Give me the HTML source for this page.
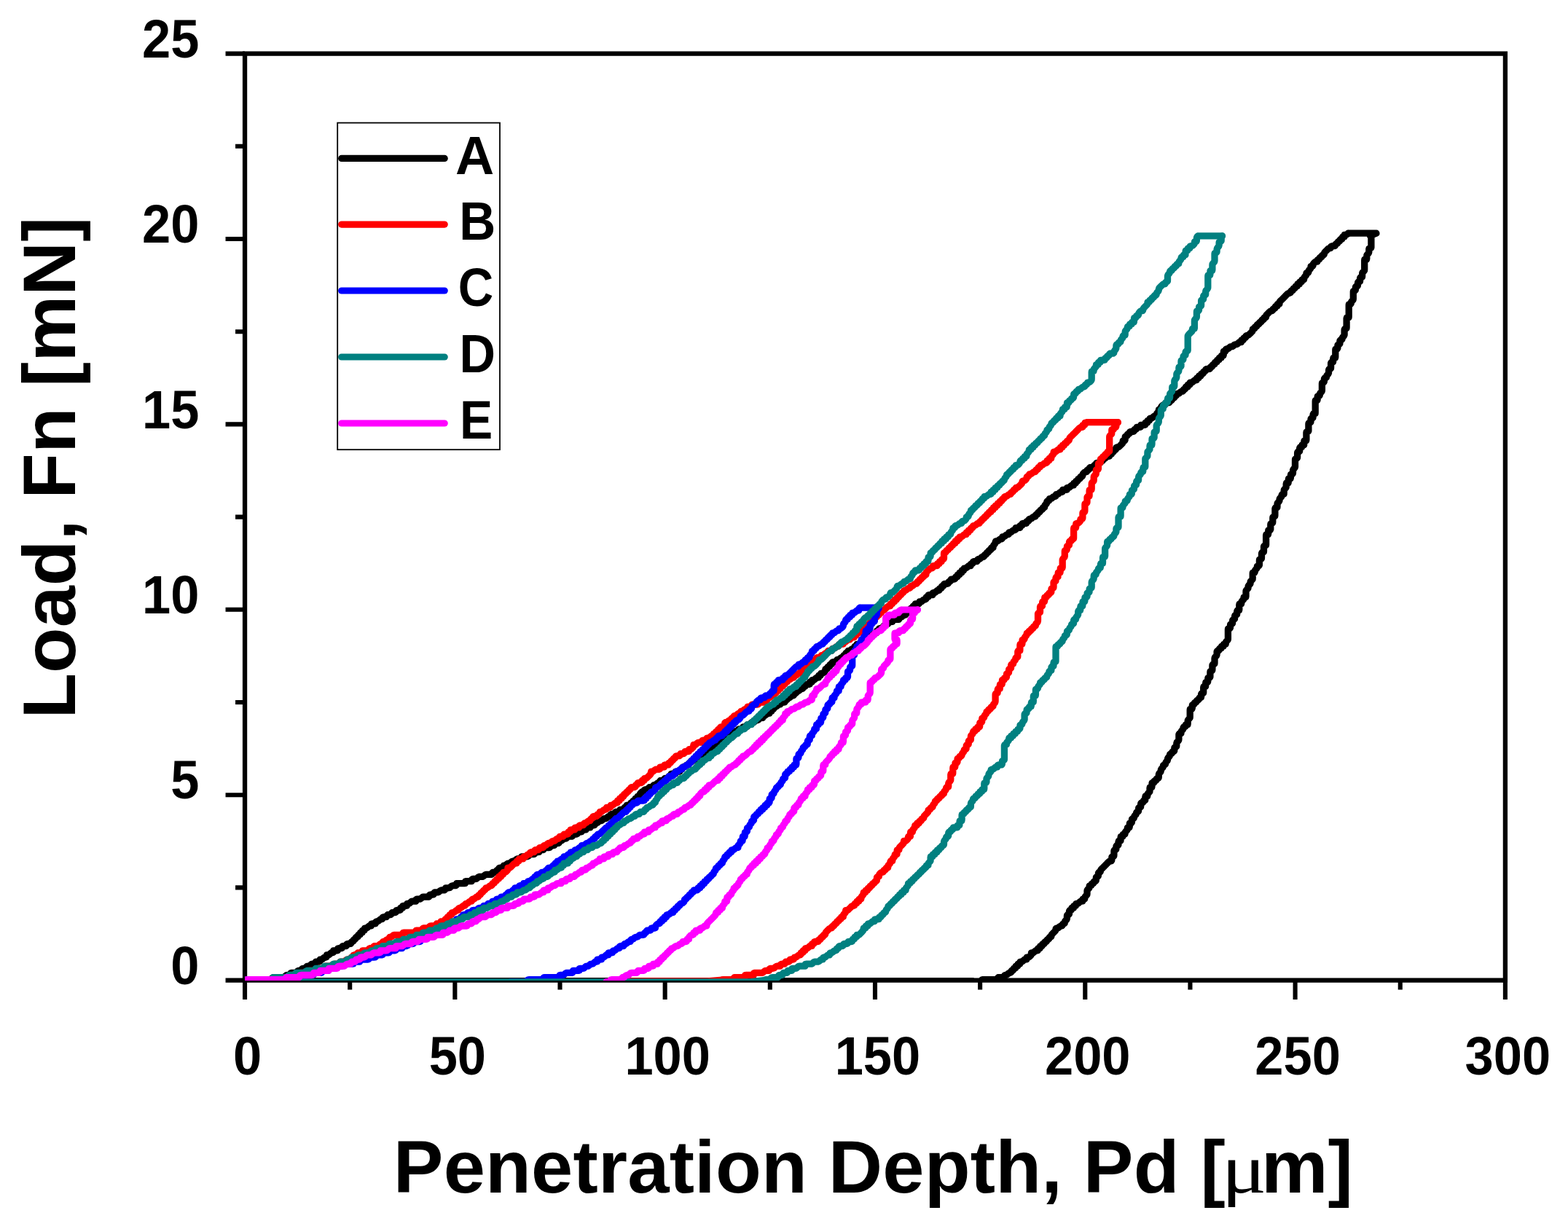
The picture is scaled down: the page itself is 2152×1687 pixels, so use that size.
<!DOCTYPE html>
<html lang="en"><head><meta charset="utf-8"><title>Load vs Penetration Depth</title>
<style>html,body{margin:0;padding:0;background:#fff}body{width:2152px;height:1687px;overflow:hidden}svg{display:block}text{font-family:"Liberation Sans",sans-serif;font-weight:bold;fill:#000}.mu{font-family:"Liberation Serif",serif;font-weight:normal}</style></head><body>
<svg width="2152" height="1687" viewBox="0 0 2152 1687">
<rect width="2152" height="1687" fill="#fff"/>
<defs><filter id="soft" x="0" y="0" width="2152" height="1687" filterUnits="userSpaceOnUse"><feGaussianBlur stdDeviation="0.6"/></filter><clipPath id="pc"><rect x="336.0" y="0" width="2152" height="1346.1"/></clipPath></defs>
<g id="axes" stroke="#000" stroke-width="6.3" fill="none" stroke-linecap="butt">
<rect x="336.05" y="73.6" width="1729.85" height="1272.00"/>
<path stroke-width="6.1" d="M336.05,1345.6v26.5 M480.20,1345.6v13.0 M624.36,1345.6v26.5 M768.51,1345.6v13.0 M912.67,1345.6v26.5 M1056.82,1345.6v13.0 M1200.97,1345.6v26.5 M1345.13,1345.6v13.0 M1489.28,1345.6v26.5 M1633.44,1345.6v13.0 M1777.59,1345.6v26.5 M1921.75,1345.6v13.0 M2065.90,1345.6v26.5 M336.05,1345.60h-26.5 M336.05,1218.40h-13.0 M336.05,1091.20h-26.5 M336.05,964.00h-13.0 M336.05,836.80h-26.5 M336.05,709.60h-13.0 M336.05,582.40h-26.5 M336.05,455.20h-13.0 M336.05,328.00h-26.5 M336.05,200.80h-13.0 M336.05,73.60h-26.5"/>
</g>
<g id="curves" clip-path="url(#pc)"><g fill="none" stroke-linejoin="round" stroke-linecap="round" filter="url(#soft)">
<path stroke="#000000" stroke-width="9.3" d="M336,1345.6l1.3-0.6l1.5-0.3h1.5h1.5h1.5h1.5h1.5h1.5h1.5h1.5h1.5h1.5h1.5h1.5h1.5h1.5h1.5h1.5h1.5h1.5h1.5h1.5h1.5l1.4-0.3l1-1l1.1-1l1.2-0.7l1.5-0.1h1.5h1.5h1.5h1.5h1.5h1.5h1.5h1.5l1.4-0.2l1.1-0.9l1.1-1.1l1.1-0.8l1.5-0.1h1.5h1.5l1.2-0.2l0.2-1.4l0.2-1.3l1.3-0.2h1.5h1.5h1.5h1.5l1.3-0.1l0.4-1.2l0.1-1.3l1.2-0.4h1.5h1.5l1.4-0.1l0.4-1.1l0.1-1.4l1-0.5h1.5h1.5l1.4-0.1l0.6-0.8l0.2-1.4l0.8-0.7l1.4-0.1h1.5l1.4-0.1l0.8-0.7l0.2-1.3l0.7-0.8l1.4-0.1h1.5l1.4-0.1l1-0.5l0.1-1.3l0.5-1.1l1.4-0.1h1.5h1.4l1.2-0.4l0.1-1.4l0.3-1.2l1.4-0.1l1.4-0.2l1.1-0.9l1.1-1.1l1.2-0.7l1.4-0.1l1.2-0.4l0.1-1.3l0.3-1.3l1.3-0.1l1.5-0.1l1.1-1l1.1-1l1.1-0.9l1.4-0.1l1.3-0.3l0.1-1.3l0.3-1.3l1.4-0.1h1.5h1.5l1.3-0.2l0.2-1.3l0.1-1.3l1.3-0.3h1.5h1.5l1.3-0.1l0.4-1.2l0.1-1.3l1.1-0.5h1.5h1.5l1.3-0.1l0.6-1l0.1-1.4l0.9-0.5l1.5-0.1h1.5l1.4-0.1l0.7-0.7l0.2-1.4l0.7-0.7l1.4-0.2l0.8-0.6l0.2-1.4l0.6-0.9l1.3-0.2l0.9-0.6l0.1-1.3l0.6-1l1.3-0.1l1.1-0.5l0.1-1.3l0.5-1.1l1.3-0.1l1.2-0.4l0.1-1.3l0.3-1.3l1.3-0.1l1.3-0.3l0.1-1.3l0.2-1.3l1.4-0.2l1.3-0.2l0.2-1.3l0.1-1.3l1.3-0.3l1.4-0.1l1.2-0.8l1-1l1.2-1l1.4-0.1l1.4-0.2l0.2-1.2l0.1-1.4l1.2-0.3h1.5h1.5l1.4-0.1l0.5-1.1l0.1-1.3l1-0.5l1.4-0.2l1.2-0.6l1.1-1l1.1-1l1.4-0.3l1.4-0.1l0.5-1l0.1-1.4l0.9-0.5l1.5-0.1h1.5l1.4-0.1l0.6-0.9l0.2-1.3l0.8-0.7l1.4-0.1h1.5l1.4-0.1l0.8-0.7l0.2-1.3l0.7-0.8l1.4-0.1h1.5l1.4-0.1l1-0.5l0.1-1.4l0.5-1l1.4-0.1h1.5h1.5l1.1-0.4l0.1-1.4l0.3-1.2l1.4-0.1l1.3-0.2l0.1-1.4l0.2-1.3l1.3-0.2h1.5h1.5l1.3-0.1l0.3-1.3l0.1-1.3l1.3-0.3l1.5-0.1l1.1-0.8l1.1-1.1l1.1-0.9l1.4-0.2h1.5h1.5l1.4-0.1l0.3-1.2l0.1-1.4l1.1-0.4h1.5h1.5l1.5-0.1l1.2-0.7l1.1-1l1.1-0.9l1.4-0.3h1.5h1.5h1.5h1.5l1.4-0.1l0.5-1l0.1-1.4l0.9-0.5l1.5-0.1h1.5l1.4-0.1l0.7-0.7l0.2-1.4l0.7-0.8l1.4-0.1h1.5h1.5l1.3-0.5l1.1-0.9l1.1-1l1.3-0.5l1.5-0.1h1.5l1.4-0.1l0.8-0.6l0.2-1.4l0.6-0.9l1.4-0.1h1.5h1.4l1.4-0.3l1.1-1l1.1-1.1l1.2-0.6l1.4-0.1h1.5h1.5l1.1-0.5l0.1-1.3l0.4-1.2l1.3-0.1h1.5h1.5h1.5h1.5h1.5h1.5l1.4-0.2l0.2-1.2l0.2-1.4l1.2-0.2h1.5h1.5h1.5h1.5l1.4-0.1l0.4-1.2l0.1-1.3l1.1-0.5h1.4h1.5l1.5-0.1l1.2-0.7l1.1-1l1.1-1l1.4-0.3h1.5h1.5l1.4-0.1l1.2-0.7l1.1-1l1.2-0.9l1.4-0.3h1.4h1.5h1.5h1.5l1.4-0.1l0.6-1l0.1-1.3l0.9-0.6l1.4-0.1h1.5l1.5-0.1l0.6-0.8l0.2-1.4l0.7-0.7l1.4-0.2l0.8-0.6l0.2-1.4l0.6-0.8l1.4-0.1h1.5h1.5l1-0.6l0.1-1.3l0.5-1.1l1.3-0.1l1.4-0.3l1.1-1l1.1-1l1.2-0.7l1.4-0.1l1.4-0.3l1.1-1l1.1-1l1.2-0.6l1.5-0.1l1.3-0.4l1.1-1l1.1-1l1.3-0.6l1.4-0.1h1.5l1.5-0.1l0.9-0.5l0.1-1.4l0.5-1l1.4-0.1h1.5h1.5h1.5h1.5l1.4-0.3l1.1-0.9l1.1-1.1l1.2-0.7l1.4-0.1h1.5h1.5l1.2-0.4l0.1-1.3l0.4-1.2l1.3-0.1h1.5h1.5l1.3-0.2l0.2-1.3l0.2-1.4l1.3-0.2h1.4h1.5l1.4-0.1l0.3-1.3l0.1-1.3l1.2-0.4h1.4h1.5h1.5h1.5l1.4-0.1l0.6-1l0.1-1.3l1-0.6h1.4h1.5l1.5-0.1l0.6-0.8l0.2-1.4l0.7-0.7l1.4-0.1h1.5l1.5-0.1l0.8-0.6l0.2-1.4l0.5-0.9l1.4-0.1l1.4-0.4l1.1-1l1-1l1.3-0.6l1.4-0.1l1.4-0.4l1.1-1l1.1-1l1.2-0.5l1.5-0.1h1.5l1.5-0.1l0.8-0.6l0.2-1.4l0.5-0.9l1.4-0.1h1.5h1.5l1.1-0.4l0.1-1.4l0.4-1.2l1.3-0.1h1.5h1.5l1.3-0.3l0.1-1.3l0.3-1.3l1.3-0.1h1.5h1.5l1.3-0.2l0.2-1.3l0.2-1.4l1.2-0.2h1.5h1.5l1.4-0.1l0.4-1.1l0.1-1.4l1.1-0.5h1.4h1.5l1.4-0.1l0.5-1l0.2-1.3l1-0.5l1.4-0.2l1.2-0.6l1.1-1l1.1-1l1.4-0.4l1.4-0.1l1.2-0.7l1.1-1l1.1-1l1.4-0.3l1.4-0.1l1.2-0.7l1.1-1l1.1-1l1.3-0.3l1.4-0.1l0.5-1.1l0.1-1.3l1.1-0.5h1.4h1.5l1.4-0.1l0.6-1l0.1-1.3l0.9-0.6l1.4-0.1h1.5l1.5-0.1l0.7-0.7l0.2-1.4l0.6-0.8l1.4-0.1h1.5l1.5-0.1l0.9-0.5l0.2-1.4l0.5-0.9l1.4-0.1l1-0.6l0.1-1.3l0.5-1.1l1.3-0.1h1.5h1.5l1.2-0.4l0.1-1.3l0.3-1.3l1.3-0.1l1.3-0.2l0.2-1.3l0.2-1.3l1.3-0.2l1.4-0.2l0.2-1.2l0.1-1.4l1.3-0.3l1.3-0.1l0.3-1.3l0.1-1.3l1.2-0.4l1.3-0.1l0.5-1.1l0.1-1.4l0.7-1.2l1-1.1l1.1-0.9l1.4-0.3l1.4-0.1l0.5-1.1l0.1-1.3l1-0.5l1.4-0.1h1.5l1.4-0.1l0.6-0.9l0.2-1.3l0.8-0.7l1.4-0.1h1.5l1.4-0.1l0.8-0.7l0.2-1.3l0.7-0.8l1.4-0.1l1.3-0.5l1.1-1l1.1-1l1.3-0.5l1.4-0.2l0.7-0.7l0.2-1.4l0.6-0.8l1.4-0.1h1.5h1.5l1-0.6l0.1-1.3l0.6-1l1.3-0.1h1.5h1.5l1.1-0.5l0.1-1.3l0.4-1.2l1.3-0.1l1.3-0.3l0.1-1.3l0.2-1.3l1.3-0.2h1.5h1.5l1.4-0.2l0.2-1.2l0.1-1.4l1.3-0.3h1.4h1.5l1.4-0.1l0.5-1.1l0.1-1.3l1.1-0.5l1.3-0.1l0.5-1.1l0.1-1.3l1-0.6l1.4-0.1l1.2-0.6l1.1-1l1.1-1l1.4-0.4l1.4-0.1l0.5-0.9l0.2-1.4l0.9-0.5l1.4-0.2l0.5-0.9l0.2-1.4l0.8-0.6l1.5-0.1h1.5l1.4-0.1l0.8-0.6l0.2-1.4l0.6-0.9l1.3-0.2l0.9-0.6l0.2-1.3l0.6-0.9l1.3-0.1l1.4-0.4l1.1-1l1.1-1l1.2-0.6l1.4-0.2l0.9-0.6l0.2-1.3l0.5-1l1.3-0.1l1.1-0.5l0.1-1.3l0.5-1.1l1.3-0.1l1.2-0.4l0.1-1.4l0.3-1.2l1.4-0.1h1.5h1.5l1.2-0.2l0.2-1.4l0.2-1.3l1.3-0.2l1.3-0.1l0.3-1.3l0.1-1.3l1.2-0.4h1.5h1.5l1.3-0.1l0.5-1.1l0.1-1.3l1.1-0.5l1.4-0.1l1.2-0.7l1.1-1l1.1-1l1.4-0.3l1.4-0.1l0.5-1l0.1-1.4l0.9-0.5l1.5-0.1h1.5l1.4-0.1l0.6-0.9l0.2-1.3l0.9-0.6l1.3-0.2l0.7-0.8l0.2-1.3l0.7-0.8l1.4-0.1h1.5l1.4-0.1l0.9-0.6l0.2-1.3l0.5-1l1.4-0.1h1.5h1.4l1.1-0.5l0.1-1.3l0.5-1.1l1.4-0.1h1.5h1.5l1.2-0.3l0.1-1.4l0.2-1.2l1.4-0.2l1.4-0.1l1.1-1l1.1-1l1.1-0.9l1.5-0.1l1.4-0.2l1.1-0.9l1.1-1.1l1.1-0.8l1.5-0.1l1.2-0.3l0.1-1.4l0.3-1.2l1.4-0.1h1.5h1.5l1.3-0.2l0.2-1.3l0.1-1.3l1.3-0.3l1.4-0.1l1.2-0.9l1-1l1.2-1l1.4-0.1l1.4-0.1l0.2-1.3l0.1-1.4l1.3-0.2l1.4-0.1l0.2-1.3l0.1-1.4l1.2-0.3l1.4-0.1l0.4-1.1l0.1-1.4l1-0.5l1.5-0.1l1.2-0.6l1.1-1.1l1.1-0.9l1.3-0.4l1.4-0.1l0.5-1.1l0.1-1.3l1.1-0.5h1.4h1.5l1.4-0.1l0.6-0.9l0.2-1.3l0.8-0.7l1.3-0.2l0.7-0.8l0.2-1.3l0.7-0.8l1.4-0.1l1.3-0.5l1.1-1l1.1-1l1.3-0.4l1.4-0.2l0.7-0.8l0.2-1.3l0.7-0.8l1.3-0.2l0.9-0.6l0.2-1.4l0.5-0.9l1.4-0.1l1.4-0.4l1.1-0.9l1.1-1l1.2-0.6l1.4-0.2l0.9-0.6l0.2-1.3l0.5-1l1.4-0.1l1-0.5l0.1-1.4l0.4-1.1l1.4-0.1h1.5h1.5l1.2-0.3l0.1-1.4l0.2-1.3l1.4-0.1l1.3-0.2l0.2-1.3l0.2-1.3l1.3-0.2l1.4-0.1l1.2-0.9l1-1.1l1.1-0.9l1.5-0.1l1.3-0.2l0.2-1.3l0.1-1.3l1.3-0.3l1.3-0.1l0.4-1.2l0.1-1.3l1.2-0.4l1.4-0.1l1.2-0.8l1.1-1l0.9-1.1l0.2-1.5l0.1-1.3l1.2-0.4l1.3-0.1l0.5-1.1l0.1-1.3l1.1-0.5l1.4-0.1l0.5-1l0.1-1.4l0.9-0.5l1.4-0.2l0.5-0.9l0.2-1.4l0.8-0.6l1.5-0.1h1.5l1.4-0.1l0.8-0.7l0.2-1.3l0.6-0.9l1.3-0.1l1.4-0.5l1.1-0.9l1.1-1l1.3-0.5l1.4-0.2l0.8-0.6l0.2-1.4l0.6-0.9l1.3-0.1l1-0.6l0.1-1.3l0.5-1.1l1.3-0.1l1.1-0.5l0.1-1.3l0.5-1.1l1.3-0.1l1.4-0.3l1.1-0.9l1.1-1.1l1.2-0.7l1.4-0.1l1.1-0.5l0.1-1.3l0.4-1.2l1.3-0.1l1.3-0.3l0.1-1.3l0.3-1.3l1.4-0.1l1.4-0.2l1.1-0.9l1.1-1.1l1.1-0.8l1.5-0.1l1.2-0.3l0.1-1.4l0.2-1.2l1.4-0.2l1.4-0.1l1.1-1l1.1-1l1.1-0.9l1.5-0.1l1.3-0.2l0.1-1.4l0.2-1.3l1.4-0.1l1.5-0.1l1.1-1l1-1l1.2-0.9l1.4-0.1l1.3-0.3l0.1-1.3l0.2-1.3l1.3-0.2l1.4-0.2l0.2-1.2l0.2-1.4l1.2-0.2l1.5-0.1l1.1-0.9l1.1-1l1-1.1l1.1-1.1l1-1l1.2-0.9l1.4-0.1l1.3-0.2l0.2-1.3l0.2-1.3l1.3-0.2h1.5h1.5l1.4-0.2l0.2-1.2l0.1-1.4l1.2-0.3h1.5h1.5h1.5h1.5l1.4-0.1l0.5-1.1l0.1-1.3l1-0.5l1.4-0.2l1.2-0.6l1.1-1l1.1-1l1.3-0.4l1.4-0.1l0.6-1l0.1-1.3l1-0.6l1.3-0.1l0.6-0.9l0.2-1.3l0.8-0.7l1.4-0.2l0.7-0.7l0.2-1.4l0.6-0.8l1.4-0.2l0.9-0.5l0.2-1.4l0.5-0.9l1.4-0.2l0.9-0.5l0.1-1.4l0.5-1l1.4-0.1h1.5h1.5l1.2-0.4l0.1-1.3l0.3-1.3l1.3-0.1l1.5-0.2l1.1-0.9l1.1-1.1l1.2-0.7l1.4-0.1l1.2-0.4l0.1-1.3l0.3-1.3l1.3-0.1l1.3-0.3l0.1-1.3l0.2-1.3l1.3-0.2h1.5h1.5l1.4-0.1l0.3-1.2l0.1-1.4l1.1-0.4l1.5-0.1l1.2-0.7l1.1-1.1l1.1-0.9l1.4-0.2l1.3-0.1l0.4-1.2l0.1-1.4l1.1-0.4l1.4-0.1l0.5-1l0.1-1.4l0.9-0.5l1.4-0.2l0.5-0.9l0.2-1.4l0.9-0.5l1.5-0.1h1.5l1.4-0.1l0.7-0.8l0.2-1.3l0.7-0.8l1.3-0.2l0.9-0.6l0.2-1.3l0.5-1l1.4-0.1h1.5h1.4l1.1-0.5l0.1-1.3l0.5-1.1l1.3-0.1l1.2-0.4l0.1-1.4l0.3-1.2l1.4-0.1l1.2-0.3l0.1-1.4l0.2-1.2l1.4-0.2l1.3-0.2l0.2-1.3l0.1-1.3l1.3-0.3l1.3-0.1l0.4-1.2l0.1-1.3l1.2-0.4l1.4-0.1l1.2-0.8l1.1-1.1l1.1-0.9l1.4-0.2l1.4-0.1l0.3-1.2l0.1-1.4l1.1-0.4l1.4-0.1l0.4-1.1l0.1-1.4l1.1-0.4h1.5h1.5l1.4-0.1l0.5-0.9l0.2-1.4l0.9-0.6l1.4-0.2l1.2-0.5l1.1-1l1.1-1.1l1.3-0.4l1.4-0.1l0.6-0.8l0.2-1.4l0.8-0.6l1.4-0.2l0.7-0.8l0.2-1.3l0.7-0.8l1.3-0.2l0.8-0.7l0.2-1.3l0.6-0.9l1.3-0.2l1-0.5l0.1-1.3l0.5-1.1l1.3-0.1l1.2-0.4l0.1-1.4l0.3-1.4l0.9-1.1l1-1.1l0.7-1.2l0.1-1.4l0.5-1.1l1.4-0.1l1.4-0.3l1.1-0.9l1.1-1l1.2-0.7l1.4-0.1l1.1-0.5l0.1-1.3l0.4-1.2l1.3-0.1l1.4-0.3l1.1-0.9l1.1-1.1l1.2-0.7l1.4-0.1l1.2-0.4l0.1-1.3l0.4-1.2l1.4-0.1l1.4-0.3l1-0.9l1.1-1.1l1.2-0.7l1.5-0.1l1.1-0.4l0.1-1.4l0.3-1.2l1.4-0.1h1.5h1.5l1.2-0.2l0.2-1.4l0.2-1.3l1.3-0.2l1.3-0.1l0.3-1.3l0.1-1.3l1.3-0.3h1.5h1.5l1.3-0.1l0.4-1.2l0.1-1.4l1.1-0.4l1.4-0.1l0.5-1l0.1-1.4l0.9-0.5l1.5-0.2l1.2-0.6l1.1-1l1.1-1l1.4-0.3l1.3-0.1l0.6-1l0.1-1.3l0.9-0.6l1.4-0.2l0.6-0.8l0.2-1.4l0.7-0.7l1.4-0.2l0.7-0.7l0.2-1.4l0.7-0.7l1.4-0.2l0.8-0.6l0.2-1.4l0.5-0.9l1.4-0.1l1-0.6l0.1-1.3l0.3-1.4l1-1.1l1.1-1l0.6-1.3l0.1-1.4l0.5-1l1.4-0.1l1-0.5l0.1-1.4l0.5-1.1l1.3-0.1l1.4-0.3l1.1-0.9l1.1-1.1l1.2-0.7l1.4-0.1l1.1-0.5l0.1-1.3l0.5-1.1l1.3-0.1l1.4-0.3l1.1-0.9l1.1-1.1l1.2-0.7l1.4-0.1l1.1-0.5l0.1-1.3l0.4-1.2l1.4-0.1h1.5h1.5l1.2-0.2l0.2-1.4l0.2-1.2l1.4-0.2l1.4-0.1l1.1-1l1.1-1l1.1-0.9l1.4-0.1l1.3-0.2l0.2-1.3l0.2-1.4l1.3-0.2l1.3-0.1l0.3-1.3l0.1-1.3l1.2-0.4l1.3-0.1l0.4-1.2l0.1-1.3l1.2-0.4l1.3-0.1l0.5-1.1l0.1-1.3l1-0.6l1.3-0.1l0.6-0.9l0.2-1.4l0.5-1.3l1.1-1.1l1.1-0.9l1.3-0.4l1.4-0.1l0.5-1l0.2-1.3l0.9-0.6l1.3-0.2l0.7-0.8l0.2-1.3l0.7-0.8l1.4-0.1h1.5l1.4-0.1l0.9-0.6l0.2-1.3l0.6-0.9l1.3-0.2l1-0.5l0.1-1.4l0.5-1l1.4-0.1h1.5h1.5l1.1-0.4l0.1-1.4l0.3-1.2l1.4-0.1l1.3-0.3l0.1-1.3l0.3-1.3l1.3-0.1l1.5-0.1l1-1l1.1-1l1.1-0.9l1.5-0.1l1.2-0.2l0.2-1.4l0.2-1.3l1.3-0.2l1.3-0.1l0.3-1.3l0.1-1.4l1.2-0.3l1.4-0.1l0.4-1.1l0.1-1.4l1.1-0.4l1.4-0.1l0.4-1.1l0.1-1.4l1-0.5l1.5-0.1l1.2-0.6l1.1-1.1l1-1l1.1-1.1l1-1l1-1.1l0.2-1.5l0.1-1.3l1.2-0.4l1.3-0.1l0.5-1.1v-1.5v-1.5l0.1-1.4l0.9-0.5l1.4-0.2l0.6-0.8l0.2-1.4l0.8-0.6l1.4-0.2l0.6-0.8l0.2-1.4l0.7-0.7l1.5-0.1h1.5l1.4-0.1l0.9-0.6l0.1-1.3l0.6-1l1.3-0.1l1.1-0.5l0.1-1.3l0.5-1.1l1.4-0.1h1.5h1.4l1.2-0.4l0.1-1.3l0.3-1.3l1.4-0.1h1.5h1.5l1.2-0.2l0.2-1.4l0.2-1.3l1.3-0.2l1.3-0.1l0.3-1.3l0.1-1.3l1.3-0.3l1.3-0.1l0.4-1.2l0.1-1.3l1.1-0.5l1.4-0.1l1.2-0.7l1.1-1.1l1.1-0.9l1.4-0.3l1.4-0.1l0.4-1.1l0.1-1.4l0.7-1.2l1.1-1.1l0.9-1.1l0.3-1.4l0.1-1.3l1.1-0.5l1.3-0.1l0.5-1.1l0.1-1.4l0.7-1.2l1-1.1l1.2-0.9l1.4-0.3l1.3-0.1l0.5-1.1l0.1-1.3l1-0.6h1.4h1.5l1.4-0.1l0.6-0.9l0.2-1.4l0.8-0.6l1.4-0.2l0.7-0.7l0.2-1.4l0.7-0.7l1.4-0.2l0.8-0.6l0.2-1.4l0.6-0.9l1.3-0.2l0.9-0.6l0.1-1.3l0.6-1l1.3-0.1l1.4-0.3l1.1-1l1.1-1l1.2-0.7l1.4-0.1l1-0.6l0.1-1.3l0.6-1l1.3-0.1l1.1-0.5l0.1-1.3l0.4-1.2l1.3-0.1l1.3-0.3l0.1-1.4l0.2-1.2l1.4-0.2l1.2-0.2l0.2-1.4l0.2-1.2l1.4-0.2l1.4-0.1l1.1-0.9l1.1-1.1l1.1-0.9l1.5-0.1l1.2-0.2l0.2-1.4l0.2-1.3l1.3-0.2l1.3-0.1l0.3-1.3l0.1-1.3l1.3-0.3l1.3-0.1l0.4-1.2l0.1-1.4l1.1-0.4l1.4-0.1l0.5-1l0.1-1.4l0.9-0.5l1.4-0.2l0.5-0.9l0.2-1.4l0.8-0.6l1.5-0.1h1.5l1.4-0.1l0.8-0.7l0.2-1.3l0.7-0.8l1.3-0.2l0.8-0.7l0.2-1.3l0.6-0.9l1.3-0.2l1-0.5l0.1-1.3l0.5-1.1l1.4-0.1l1.1-0.4l0.1-1.4l0.4-1.1l1.4-0.1l1.1-0.4l0.1-1.4l0.3-1.2l1.4-0.1l1.2-0.2l0.2-1.4l0.2-1.3l1.3-0.2l1.3-0.1l0.3-1.3v-1.5v-1.5l0.1-1.3l1.2-0.4l1.4-0.1l0.4-1.1l0.1-1.4l1-0.5l1.4-0.1l1.3-0.7l1-1l1.1-1l1.4-0.3l1.5-0.1l1.2-0.7l1-1l1.1-1l1.5-0.2l1.4-0.1l1.2-0.8l1-1l1.2-1l1.4-0.2l1.3-0.1l0.3-1.3l0.1-1.3l1.2-0.4l1.3-0.1l0.5-1.1l0.1-1.3l1.1-0.5l1.4-0.1l0.5-1l0.1-1.4l0.9-0.5l1.4-0.2l1.3-0.6l1-1l1.1-1.1l1.1-1l1-1.1l1-1.1l0.3-1.4l0.1-1.3l1.1-0.5l1.3-0.1l0.6-1l0.1-1.3l0.9-0.6l1.3-0.2l0.6-0.9l0.2-1.4l0.8-0.6l1.4-0.2l0.7-0.7l0.2-1.4l0.7-0.7l1.4-0.2l0.8-0.6l0.2-1.4l0.5-0.9l1.4-0.2l0.9-0.5l0.1-1.4l0.6-1l1.3-0.1l1.1-0.5l0.1-1.3l0.3-1.4l1-1.1l1.1-1.1l1-1l1.1-1.1l1.1-1l1.2-0.6l1.4-0.2l0.9-0.6l0.2-1.3l0.6-0.9l1.3-0.2l1-0.5l0.1-1.3l0.5-1.1l1.3-0.1l1.2-0.4l0.1-1.4l0.3-1.2l1.4-0.1l1.2-0.3l0.1-1.4l0.2-1.4l0.9-1.1l1.1-1l1.1-1.1l1-1l1.1-1.1l1.1-1.1l1-1l1-1.1l1.1-1.1l1.1-1l1.1-1l1.3-0.5l1.4-0.2l0.8-0.6l0.2-1.4l0.5-0.9l1.4-0.1l1-0.6l0.1-1.3l0.5-1.1l1.3-0.1l1.1-0.5l0.1-1.3l0.5-1.1l1.3-0.1l1.2-0.4l0.1-1.3l0.3-1.3l1.3-0.1l1.3-0.2l0.2-1.3l0.2-1.4l1.3-0.2l1.3-0.2l0.2-1.3l0.2-1.3l1.3-0.2l1.3-0.1l0.3-1.3l0.1-1.4l0.8-1.2l1-1l1-1.1l0.2-1.5l0.1-1.3l1.2-0.4l1.3-0.1l0.4-1.2l0.1-1.4l0.8-1.2l1.1-1.1l0.9-1.1l0.2-1.4l0.1-1.3l1.2-0.4l1.4-0.1l0.4-1.1l0.1-1.4l0.8-1.2l1-1.1l1.1-1l1.4-0.2l1.4-0.1l0.3-1.2l0.1-1.4l1.1-0.4l1.4-0.1l0.5-1l0.1-1.4l0.9-0.5l1.4-0.2l0.6-0.9l0.2-1.3l0.9-0.6l1.3-0.2l0.6-0.9l0.2-1.4l0.5-1.2l1-1.1l1.1-1.1l1.1-1l1-1.1l1.1-0.9l1.4-0.4l1.4-0.1l0.5-1l0.1-1.4l1-0.5l1.4-0.1h1.5l1.4-0.1l0.7-0.8l0.2-1.3l0.7-0.8l1.3-0.2l0.9-0.6l0.2-1.3l0.6-0.9l1.3-0.2l0.9-0.6l0.2-1.3l0.5-1l1.4-0.1l1-0.5l0.1-1.4l0.4-1.1l1.4-0.1l1.2-0.3l0.1-1.4l0.2-1.3l1.4-0.1l1.4-0.2l1.2-0.9l1-0.9M1880.6,323.5l0.8,1.3l0.5,1.3v1.5v1.5v1.5v1.5v1.5v1.5v1.5v1.5v1.5l-0.4,1.1l-1.4,0.1l-1.2,0.4l-0.1,1.3v1.5v1.5l-0.2,1.4l-0.9,1.2l-1,1.1l-0.8,1.1l-0.1,1.5v1.5v1.5l-0.3,1.2l-1.4,0.1l-1.3,0.3l-0.1,1.3v1.5v1.5v1.5v1.5v1.5v1.5v1.5v1.5l-0.1,1.5l-0.8,1.1l-1,1.1l-1,1.1l-0.2,1.4v1.5v1.5l-0.1,1.4l-1.1,0.4l-1.4,0.1l-0.4,1.1v1.5v1.5l-0.1,1.4l-1,0.5l-1.4,0.1l-0.5,0.9l-0.1,1.5v1.5l-0.1,1.4l-0.8,0.7l-1.3,0.2l-0.8,0.7l-0.1,1.4v1.5l-0.1,1.4l-0.6,0.9l-1.3,0.2l-1,0.5l-0.1,1.4v1.5v1.5v1.5v1.5v1.5v1.5l-0.2,1.4l-1,1.1l-1,1.1l-0.7,1.2l-0.1,1.4l-0.5,1.1l-1.3,0.1l-1.2,0.4l-0.1,1.4v1.5v1.5v1.5v1.5v1.5v1.5v1.5v1.5v1.5v1.5l-0.1,1.3l-1.3,0.3l-1.3,0.1l-0.4,1.2v1.5v1.5v1.5v1.5v1.5v1.5v1.5v1.5l-0.1,1.4l-0.8,0.6l-1.4,0.2l-0.6,0.8l-0.1,1.5v1.5v1.5v1.5v1.4l-0.5,1.3l-1,1.1l-1,1.1l-0.5,1.3l-0.2,1.4l-0.7,0.7l-1.4,0.2l-0.8,0.7l-0.1,1.4v1.5v1.4l-0.6,1l-1.3,0.1l-1,0.6l-0.1,1.4v1.5v1.4l-0.5,1.1l-1.3,0.1l-1.2,0.4l-0.1,1.4v1.5v1.5v1.5v1.5v1.5v1.5l-0.2,1.3l-1.3,0.2l-1.3,0.1l-0.3,1.3v1.5v1.5l-0.1,1.3l-1.2,0.4l-1.3,0.1l-0.5,1.1v1.5v1.5v1.5v1.5l-0.1,1.4l-0.9,0.5l-1.4,0.2l-0.5,0.9l-0.1,1.5v1.5l-0.1,1.4l-0.5,1.3l-1,1.1l-1,1.1l-0.5,1.3l-0.1,1.4l-0.8,0.6l-1.4,0.2l-0.7,0.8l-0.1,1.4v1.5l-0.1,1.4l-0.6,0.9l-1.3,0.2l-0.9,0.6l-0.1,1.4v1.5v1.5v1.5v1.5v1.5v1.5l-0.4,1.3l-0.9,1.1l-1.1,1.1l-0.6,1.2l-0.1,1.5l-0.5,1l-1.4,0.1l-1.1,0.4l-0.1,1.4v1.5v1.5l-0.3,1.2l-1.4,0.1l-1.2,0.3l-0.1,1.4v1.5v1.5v1.5v1.5v1.5v1.5v1.5v1.5v1.5v1.5l-0.1,1.4l-1.2,0.3l-1.4,0.1l-0.4,1.1v1.5v1.5l-0.1,1.4l-1,0.5l-1.3,0.2l-0.6,0.9l-0.1,1.4v1.5l-0.1,1.4l-0.8,0.7l-1.3,0.2l-0.8,0.7l-0.1,1.4v1.5v1.5v1.5v1.5v1.5v1.5l-0.5,1l-1.4,0.1l-1,0.5l-0.1,1.4v1.5v1.5v1.5v1.5v1.5v1.5l-0.2,1.3l-1.4,0.1l-1.3,0.2l-0.2,1.3v1.5v1.5l-0.1,1.3l-1.3,0.3l-1.4,0.1l-0.3,1.2l-0.1,1.4l-1.1,0.4l-1.4,0.1l-0.4,1.1v1.5v1.5l-0.1,1.4l-1,0.5l-1.4,0.1l-0.5,1l-0.1,1.4v1.5v1.5v1.5l-0.1,1.4l-0.7,0.8l-1.3,0.2l-0.9,0.6l-0.1,1.4v1.5v1.5v1.5v1.5v1.5v1.5l-0.4,1.4l-0.9,1.1l-1,1.1l-0.6,1.2l-0.1,1.5v1.5l-0.1,1.4l-0.5,1l-1.3,0.1l-1.1,0.5l-0.1,1.4v1.5v1.5l-0.3,1.2l-1.4,0.1l-1.2,0.2l-0.2,1.4v1.5v1.5l-0.2,1.3l-1.3,0.2l-1.3,0.1l-0.3,1.3v1.5v1.5l-0.1,1.4l-0.8,1.2l-1,1.1l-1,1.1l-0.1,1.4v1.5v1.5l-0.1,1.4l-1.2,0.4l-1.3,0.1l-0.5,1.1l-0.1,1.4l-0.7,1.2l-1.1,1.1l-0.9,1.1l-0.3,1.4l-0.1,1.4l-0.7,1.2l-1,1.1l-1,1.1l-0.2,1.4v1.5v1.5l-0.1,1.4l-1.2,0.4l-1.3,0.1l-0.5,1.1v1.4v1.5v1.5v1.5v1.5v1.5l-0.1,1.5l-0.8,0.6l-1.4,0.2l-0.7,0.7l-0.1,1.4v1.5v1.5v1.5l-0.1,1.5l-0.5,0.9l-1.4,0.2l-0.9,0.5l-0.1,1.4v1.5v1.5v1.5v1.5l-0.5,1.1l-1.3,0.1l-1.2,0.4l-0.1,1.3v1.5v1.5l-0.3,1.3l-1.3,0.1l-1.3,0.2l-0.2,1.3v1.5v1.5v1.5v1.5v1.5v1.5v1.5v1.5l-0.1,1.4l-1.1,0.5l-1.3,0.1l-0.6,1v1.4v1.5v1.5v1.5l-0.1,1.5l-0.8,0.6l-1.4,0.2l-0.6,0.8l-0.1,1.4v1.5v1.5v1.5l-0.1,1.5l-0.6,0.8l-1.4,0.2l-0.9,0.5l-0.1,1.4v1.5v1.5v1.5v1.5l-0.5,1.1l-1.3,0.1l-1.2,0.4l-0.1,1.3l-0.2,1.5l-1,1.1l-1,1l-0.7,1.2l-0.1,1.5l-0.4,1.1l-1.4,0.1l-1.2,0.3l-0.1,1.4v1.5v1.5v1.5v1.5l-0.1,1.5l-1,1.1l-1,1l-0.9,1.2l-0.1,1.4l-0.1,1.5l-1,1.1l-1,1l-0.8,1.2l-0.1,1.5l-0.2,1.4l-1,1.1l-1,1.1l-0.8,1.1l-0.1,1.5v1.5v1.5v1.5v1.5l-0.2,1.2l-1.4,0.2l-1.3,0.2l-0.2,1.3l-0.1,1.4l-0.9,1.2l-1.1,1l-0.9,1.1l-0.1,1.5l-0.2,1.3l-1.3,0.2l-1.3,0.2l-0.2,1.3v1.5v1.5v1.5v1.5l-0.1,1.3l-1.2,0.4l-1.4,0.1l-0.4,1.1v1.5v1.5l-0.1,1.4l-1,0.5l-1.4,0.1l-0.5,0.9l-0.1,1.5v1.5l-0.1,1.4l-0.8,0.7l-1.3,0.2l-0.7,0.8l-0.1,1.4v1.5l-0.1,1.4l-0.7,0.8l-1.3,0.2l-0.9,0.6l-0.1,1.4v1.5v1.4l-0.5,1.1l-1.3,0.1l-1.2,0.4l-0.1,1.4v1.5v1.5v1.5v1.5v1.5v1.5v1.5v1.5l-0.1,1.4l-0.9,1.2l-1.1,1l-0.8,1.2l-0.1,1.5l-0.2,1.2l-1.4,0.2l-1.3,0.2l-0.2,1.3l-0.2,1.3l-1.3,0.2l-1.3,0.1l-0.3,1.3l-0.1,1.3l-1.2,0.4l-1.3,0.1l-0.5,1.1l-0.1,1.3l-1,0.6l-1.3,0.1l-0.6,1v1.5v1.5l-0.1,1.4l-0.6,1.3l-1,1l-1,1.1l-0.4,1.4v1.5v1.5v1.5v1.5l-0.1,1.4l-0.8,0.6l-1.4,0.2l-0.7,0.8l-0.1,1.4v1.5v1.5v1.5l-0.1,1.4l-0.6,0.9l-1.3,0.2l-0.9,0.6l-0.1,1.4v1.5v1.5v1.5v1.4l-0.5,1.1l-1.3,0.1l-1.2,0.4l-0.1,1.4v1.5v1.5l-0.3,1.2l-1.4,0.1l-1.2,0.2l-0.2,1.4v1.5v1.5l-0.1,1.3l-1.3,0.3l-1.3,0.1l-0.3,1.3v1.5v1.5v1.5v1.5l-0.1,1.4l-1.1,0.4l-1.4,0.1l-0.5,1v1.5v1.5l-0.1,1.4l-0.9,0.5l-1.4,0.2l-0.6,0.8l-0.2,1.4l-0.8,0.7l-1.3,0.2l-0.8,0.7l-0.2,1.3l-0.6,0.9l-1.3,0.2l-0.9,0.6l-0.2,1.3l-0.6,0.9l-1.3,0.2l-1,0.5l-0.1,1.4v1.5v1.4l-0.4,1.2l-1.4,0.1l-1.2,0.3l-0.1,1.4v1.5v1.5v1.5v1.5v1.5v1.5l-0.1,1.4l-0.9,1.2l-1,1l-0.9,1.2l-0.1,1.4v1.5v1.5l-0.2,1.4l-1.2,0.2l-1.4,0.1l-0.3,1.3l-0.1,1.3l-1.2,0.4l-1.3,0.1l-0.5,1.1l-0.1,1.4l-0.7,1.2l-1,1.1l-1,1.1l-0.2,1.4l-0.1,1.4l-1.2,0.4l-1.3,0.1l-0.5,1.1v1.4v1.5v1.5v1.5l-0.1,1.5l-0.6,1.2l-1,1.1l-1,1.1l-0.4,1.3v1.5v1.5l-0.1,1.4l-0.9,0.6l-1.3,0.2l-0.6,0.9l-0.1,1.4v1.5l-0.1,1.4l-0.8,0.7l-1.3,0.2l-0.8,0.7l-0.2,1.3l-0.6,0.9l-1.4,0.2l-0.9,0.5l-0.1,1.4l-0.4,1.3l-1,1.1l-1,1.1l-0.6,1.2l-0.1,1.5l-0.4,1.3l-1,1.1l-1,1.1l-0.5,1.3l-0.2,1.4l-0.7,0.8l-1.3,0.2l-0.9,0.6l-0.1,1.4l-0.4,1.3l-1,1.1l-1,1.1l-0.6,1.2l-0.1,1.5l-0.5,1.3l-1,1.1l-0.9,1.1l-0.5,1.3l-0.1,1.5v1.5l-0.1,1.4l-0.6,0.9l-1.3,0.2l-1,0.5l-0.2,1.3l-0.5,1l-1.3,0.1l-1.1,0.5l-0.1,1.4l-0.4,1.1l-1.4,0.1l-1.2,0.3l-0.1,1.4v1.5v1.5l-0.2,1.2l-1.4,0.2l-1.2,0.2l-0.2,1.4v1.5v1.5l-0.1,1.4l-0.9,1.2l-1.1,1l-0.9,1.1l-0.1,1.5l-0.2,1.3l-1.3,0.2l-1.3,0.1l-0.3,1.3v1.5v1.5l-0.1,1.3l-1.1,0.5l-1.3,0.1l-0.5,1.1l-0.1,1.3l-1.1,0.5l-1.4,0.1l-0.5,1v1.5v1.5l-0.1,1.4l-0.8,0.6l-1.4,0.2l-0.7,0.7l-0.1,1.5v1.5l-0.1,1.4l-0.7,0.8l-1.3,0.2l-0.8,0.7l-0.1,1.3l-0.5,1.4l-1,1l-1,1.1l-0.5,1.3l-0.2,1.4l-0.6,0.8l-1.4,0.2l-0.9,0.6l-0.1,1.4v1.5v1.4l-0.5,1.1l-1.3,0.1l-1.2,0.4l-0.1,1.4v1.5v1.4l-0.3,1.3l-1.3,0.1l-1.3,0.3l-0.1,1.4l-0.1,1.4l-1,1.1l-1.1,1l-0.8,1.2l-0.1,1.4l-0.3,1.3l-1.3,0.1l-1.3,0.2l-0.2,1.3l-0.2,1.4l-1.2,0.2l-1.4,0.2l-0.2,1.2v1.5v1.5l-0.1,1.4l-1.3,0.3l-1.3,0.1l-0.4,1.2v1.4v1.5l-0.1,1.4l-1,0.6l-1.3,0.1l-0.6,0.9l-0.1,1.4v1.5l-0.1,1.5l-0.8,0.6l-1.4,0.2l-0.6,0.8l-0.1,1.4v1.5v1.5v1.5l-0.1,1.5l-0.6,0.8l-1.4,0.2l-0.9,0.5l-0.1,1.4v1.5v1.5l-0.5,1.1l-1.3,0.1l-1.4,0.3l-1.2,0.9l-1,1.1l-1.1,1l-1,1.1l-1.1,1.1l-1,1l-1.1,1.1l-1.1,1.1l-1,1l-1.1,1l-1,1.1l-0.5,1.3l-0.1,1.4l-0.8,0.7l-1.3,0.2l-0.7,0.8l-0.1,1.4v1.5l-0.1,1.4l-0.7,0.8l-1.3,0.2l-0.9,0.6l-0.1,1.4v1.5v1.5l-0.5,1l-1.4,0.1l-1.1,0.4l-0.1,1.4l-0.4,1.1l-1.4,0.1l-1.1,0.4l-0.1,1.4l-0.4,1.2l-1.3,0.1l-1.3,0.3l-0.1,1.3l-0.1,1.5l-1,1.1l-1,1l-0.9,1.2l-0.1,1.4v1.5v1.5l-0.1,1.5l-1,1.1l-1,1l-0.9,1.2l-0.1,1.4l-0.3,1.3l-1.3,0.1l-1.3,0.3l-0.1,1.3l-0.2,1.3l-1.3,0.2l-1.5,0.1l-1.1,0.9l-1.1,1.1l-1.1,0.9l-1.5,0.1l-1.2,0.2l-0.2,1.4l-0.2,1.2l-1.4,0.2l-1.3,0.2l-0.2,1.3l-0.1,1.3l-1.3,0.3l-1.3,0.1l-0.4,1.2l-0.1,1.3l-1.1,0.5l-1.3,0.1l-0.5,1.1v1.5v1.5l-0.1,1.3l-1,0.6l-1.4,0.1l-0.5,0.9l-0.1,1.5v1.5l-0.1,1.4l-0.5,1.3l-1,1.1l-1,1l-0.5,1.4l-0.1,1.4l-0.8,0.6l-1.4,0.2l-0.7,0.7l-0.2,1.4l-0.6,0.8l-1.4,0.1l-1.3,0.5l-1.1,1l-1.1,1l-1.4,0.5l-1.4,0.1l-0.7,0.7l-0.1,1.4l-0.5,1.3l-1,1.1l-1,1.1l-1.1,1.1l-1,1l-1,1.1l-0.5,1.4l-0.1,1.3l-0.9,0.6l-1.3,0.2l-0.7,0.8l-0.2,1.4l-0.7,0.7l-1.4,0.2l-0.7,0.7l-0.2,1.4l-0.6,0.8l-1.4,0.2l-0.9,0.5l-0.2,1.4l-0.5,0.9l-1.4,0.1l-1,0.5l-0.1,1.4l-0.5,1.1l-1.3,0.1l-1.2,0.4l-0.1,1.3l-0.3,1.3l-1.3,0.1l-1.3,0.3l-0.1,1.3l-0.2,1.3l-1.3,0.2l-1.5,0.1l-1.1,0.9l-1.1,1l-1.2,0.9l-1.4,0.1l-1.3,0.3l-0.1,1.3l-0.1,1.5l-1,1.1l-1,1l-1.2,0.9l-1.4,0.1l-1.3,0.2l-0.2,1.3l-0.2,1.3l-1.3,0.2l-1.5,0.1l-1.1,1l-1.1,1l-1.1,0.9l-1.4,0.1l-1.3,0.2l-0.2,1.4l-0.2,1.3l-1.3,0.2l-1.3,0.1l-0.3,1.3l-0.1,1.3l-1.3,0.3l-1.3,0.1l-0.3,1.3l-0.1,1.3l-1.2,0.4l-1.3,0.1l-0.5,1.1l-0.1,1.3l-1,0.6l-1.4,0.1l-0.5,0.9l-0.2,1.4l-0.9,0.5l-1.4,0.2l-1.3,0.6l-1,1l-1.1,1l-1.4,0.4l-1.4,0.1l-0.5,0.9l-0.2,1.4l-0.8,0.6l-1.5,0.1h-1.5h-1.5h-1.5l-1.4,0.1l-0.8,0.7l-0.2,1.3l-0.6,0.9l-1.4,0.1h-1.5h-1.5h-1.5h-1.5h-1.5h-1.5h-1.5h-1.5h-1.5h-1.5h-1.5h-1.5l-1.2,0.2l-0.2,1.4l-0.2,1.2l-1.4,0.2h-1.5h-1.5h-1.5h-1.5h-1.5h-1.5l-1.4-0.1l-1.2-0.8"/>
<path stroke="#000000" stroke-width="9.2" d="M1850.5,320.2h38.5l-8.4,3.3M1334.4,1346.6h-998.4"/>
<path stroke="#ff0000" stroke-width="9.3" d="M336,1345.6l1.3-0.6l1.5-0.3h1.5h1.5h1.5h1.5h1.5h1.5h1.5h1.5h1.5h1.5h1.5h1.5h1.5h1.5h1.5h1.5h1.5h1.5h1.5h1.5h1.5h1.5h1.5h1.5h1.5l1.2-0.3l0.1-1.4l0.2-1.2l1.4-0.2h1.5h1.5h1.5h1.5h1.5h1.5h1.5h1.5h1.5h1.5l1.4-0.1l1.2-0.8l1.1-1l1.1-1l1.4-0.2h1.5h1.5h1.5h1.5l1.5-0.1l1.2-0.7l1-1l1.1-1l1.4-0.3h1.5h1.5h1.5h1.5l1.5-0.1l1.2-0.6l1.1-1l1.1-1l1.4-0.3h1.5h1.5h1.5h1.5h1.5h1.5l1.4-0.1l0.5-0.9l0.2-1.4l0.9-0.6l1.4-0.1h1.5h1.5h1.5l1.4-0.1l0.8-0.7l0.2-1.3l0.6-0.9l1.4-0.1h1.5h1.5h1.5h1.5l1.4-0.3l1.1-1l1-1l1.3-0.6l1.5-0.1h1.5h1.5h1.5h1.4l1.1-0.5l0.1-1.3l0.4-1.2l1.4-0.1h1.5h1.5l1.4-0.1l1.1-1l1-1.1l1.2-0.8l1.4-0.1h1.5h1.5l1.3-0.2l0.2-1.3l0.2-1.3l1.3-0.2l1.4-0.2l0.2-1.2l0.1-1.4l1.3-0.3l1.4-0.1l1.1-0.9l1.1-1l1.1-1l1.5-0.1h1.5h1.5l1.3-0.1l0.3-1.3l0.1-1.3l1.3-0.3h1.5h1.5h1.5h1.5l1.3-0.1l0.5-1.1l0.1-1.3l1-0.6h1.5h1.5l1.4-0.1l0.6-0.8l0.2-1.4l0.7-0.7l1.5-0.1h1.5h1.4l1.3-0.5l1.1-1l1.1-1l1.3-0.5l1.4-0.2l0.8-0.7l0.2-1.3l0.7-0.8l1.3-0.2l1.3-0.4l1.1-1l1.1-1l1.3-0.5l1.4-0.2l0.8-0.7l0.2-1.3l0.6-0.9l1.4-0.1l1.3-0.5l1.1-1l1.1-0.9l1.3-0.5l1.5-0.1h1.5h1.5h1.5h1.5h1.5l1.4-0.1l1-0.5l0.1-1.3l0.5-1.1l1.4-0.1h1.5h1.5h1.5h1.5h1.5h1.5h1.5h1.5h1.5h1.5l1.3-0.2l0.2-1.3l0.1-1.3l1.3-0.3h1.5h1.5h1.5h1.5l1.3-0.1l0.5-1.1l0.1-1.4l1-0.5h1.5h1.5h1.5h1.5l1.4-0.1l0.6-0.8l0.2-1.4l0.8-0.6l1.5-0.1h1.5h1.5h1.5l1.4-0.1l0.8-0.7l0.2-1.3l0.6-0.9l1.4-0.1h1.5h1.4l1.1-0.5l0.1-1.3l0.4-1.2l1.4-0.1h1.5h1.5l1.2-0.3l0.1-1.4l0.3-1.2l1.4-0.1l1.2-0.2l0.2-1.4l0.2-1.3l1.3-0.2l1.3-0.1l0.3-1.3l0.1-1.3l1.2-0.4l1.3-0.1l0.4-1.2l0.1-1.3l1.2-0.4l1.4-0.1l1.2-0.8l1.1-1l1.1-1l1.4-0.2l1.4-0.1l0.4-1.1l0.1-1.4l1-0.5l1.5-0.1l1.2-0.7l1-1l1.1-1l1.4-0.3l1.4-0.1l0.5-1l0.1-1.4l1-0.5l1.5-0.1l1.2-0.7l1-1l1.1-1l1.4-0.3l1.4-0.1l0.5-1.1l0.1-1.3l1-0.5l1.4-0.2l1.2-0.6l1.1-1.1l1.1-0.9l1.4-0.3l1.4-0.1l0.5-1l0.1-1.4l1-0.5l1.3-0.2l0.5-1l0.2-1.3l0.9-0.6l1.3-0.2l0.7-0.8l0.2-1.3l0.8-0.7l1.3-0.2l0.8-0.7l0.2-1.3l0.6-0.9l1.4-0.1l1.3-0.4l1.1-1l1.1-1.1l1.2-0.5l1.4-0.2l0.9-0.6l0.2-1.3l0.5-1l1.3-0.1l1.1-0.5l0.1-1.3l0.5-1.1l1.3-0.1l1.1-0.5l0.1-1.4l0.4-1.1l1.4-0.1l1.2-0.3l0.1-1.4l0.2-1.3l1.4-0.1l1.3-0.2l0.2-1.3l0.2-1.3l1.3-0.2l1.3-0.1l0.3-1.3l0.1-1.4l1.2-0.3l1.5-0.1l1.1-0.8l1.1-1.1l0.9-1.1l0.2-1.4l0.1-1.4l1.3-0.2l1.5-0.1l1.1-0.9l1.1-1l1-1.1l1.1-1.1l1-1l1.2-0.9l1.4-0.1l1.3-0.2l0.2-1.3l0.2-1.3l1.3-0.2l1.3-0.2l0.2-1.3l0.2-1.4l1.2-0.2h1.5h1.5l1.4-0.1l0.4-1.1l0.1-1.4l1.1-0.5l1.4-0.1l1.2-0.7l1-1l1.1-1l1.4-0.3l1.4-0.1l0.5-1.1l0.1-1.3l1.1-0.5h1.4h1.5l1.4-0.1l0.5-1l0.2-1.3l0.9-0.6l1.4-0.1h1.5l1.4-0.1l0.8-0.7l0.2-1.4l0.6-0.8l1.4-0.1h1.5l1.5-0.1l0.9-0.5l0.2-1.4l0.5-0.9l1.4-0.1l1.4-0.4l1-1l1.1-1l1.2-0.6l1.5-0.1l1.3-0.4l1.1-1l1.1-1l1.3-0.6l1.4-0.1l1.3-0.5l1.1-1l1.1-1l1.2-0.5l1.4-0.2l0.9-0.6l0.2-1.3l0.6-0.9l1.4-0.1h1.5l1.5-0.1l0.9-0.5l0.1-1.4l0.5-1l1.4-0.1h1.5h1.5l1.2-0.4l0.1-1.3l0.3-1.3l1.3-0.1l1.3-0.3l0.1-1.3l0.3-1.3l1.3-0.1h1.5h1.5l1.4-0.2l0.2-1.2l0.1-1.4l1.2-0.3h1.5h1.5l1.4-0.1l0.4-1.1l0.1-1.4l1.1-0.5h1.4h1.5l1.4-0.1l0.6-0.9l0.2-1.3l0.9-0.6l1.4-0.2l1.2-0.6l1.1-1l1.1-1l1.3-0.4l1.4-0.1l0.6-0.9l0.2-1.3l0.8-0.7l1.3-0.2l0.7-0.8l0.2-1.4l0.7-0.7l1.4-0.1h1.5l1.5-0.1l0.9-0.5l0.2-1.4l0.5-0.9l1.4-0.1l1-0.5l0.1-1.4l0.5-1.1l1.3-0.1l1.4-0.3l1.1-1l1.1-1l1.2-0.7l1.4-0.1l1.1-0.5l0.1-1.3l0.5-1.1l1.3-0.1h1.5h1.5l1.2-0.4l0.1-1.3l0.3-1.3l1.3-0.1l1.5-0.1l1.1-1l1-1.1l1.2-0.8l1.4-0.1l1.3-0.3l0.1-1.3l0.3-1.3l1.3-0.1l1.3-0.2l0.2-1.3l0.2-1.4l1.2-0.2l1.4-0.1l0.3-1.2l0.1-1.4l1.2-0.4l1.3-0.1l0.4-1.2l0.1-1.3l1.1-0.5l1.3-0.1l0.6-1l0.1-1.3l1-0.6l1.3-0.1l0.6-0.9l0.2-1.3l0.8-0.7l1.3-0.2l0.7-0.8l0.2-1.4l0.7-0.7l1.4-0.1h1.5l1.5-0.1l0.9-0.5l0.2-1.4l0.5-0.9l1.4-0.2l0.9-0.5l0.1-1.4l0.5-1l1.4-0.1h1.5h1.5l1.2-0.4l0.1-1.3l0.3-1.3l1.3-0.1l1.3-0.2l0.2-1.3l0.2-1.3l1.3-0.2l1.5-0.1l1.1-1l1-1l1.1-1.1l1.1-1.1l1-1l0.8-1.2l0.1-1.4l0.3-1.3l1.4-0.1l1.4-0.2l1.1-1l1.1-1l1.2-0.7l1.4-0.1h1.5h1.5l1.2-0.4l0.1-1.3l0.3-1.3l1.3-0.1h1.5h1.5l1.4-0.2l0.2-1.3l0.1-1.3l1.3-0.3h1.4h1.5l1.4-0.1l0.4-1.2l0.1-1.3l1.2-0.4l1.3-0.1l0.5-1.1l0.1-1.3l1-0.6l1.3-0.1l0.6-0.9l0.2-1.4l0.8-0.6l1.4-0.2l0.6-0.8l0.2-1.4l0.8-0.6l1.4-0.1h1.5l1.5-0.1l0.8-0.6l0.2-1.4l0.6-0.9l1.3-0.1h1.5h1.5l1-0.6l0.1-1.3l0.5-1.1l1.3-0.1h1.5h1.5l1.3-0.3l0.1-1.3l0.3-1.3l1.3-0.1l1.5-0.2l1.1-1l1-1l0.8-1.2l0.1-1.4l0.3-1.3l1.4-0.1l1.4-0.2l1.1-0.9l1-1.1l1.2-0.8l1.5-0.1h1.5h1.4l1.3-0.2l0.2-1.3l0.2-1.3l1.4-0.2h1.5h1.5l1.3-0.2l0.2-1.3l0.1-1.3l1.3-0.3l1.4-0.1l1.2-0.8l1-1l1.1-1l1.5-0.2l1.3-0.1l0.3-1.3l0.1-1.3l1.3-0.3l1.3-0.1l0.4-1.2l0.1-1.3l1.1-0.5l1.4-0.1l0.5-1l0.1-1.4l0.9-0.5l1.4-0.2l0.5-0.9l0.2-1.4l0.9-0.5l1.4-0.2l1.3-0.6l1.1-1l1-1.1l0.4-1.3l0.1-1.4l0.8-0.6l1.5-0.2l1.2-0.5l1.1-1l1.1-1l1.3-0.5l1.4-0.1l0.6-0.8l0.2-1.4l0.8-0.6l1.4-0.2l0.7-0.7l0.2-1.4l0.7-0.8l1.3-0.2l1.3-0.4l1.1-1l1.1-1l1.3-0.5l1.4-0.2l0.8-0.7l0.2-1.3l0.7-0.8l1.4-0.2l1.3-0.4l1-1l1.1-1l1.3-0.5l1.4-0.2l0.8-0.7l0.2-1.3l0.6-0.9l1.4-0.1h1.5l1.4-0.1l1-0.5l0.1-1.4l0.5-1l1.4-0.1h1.5h1.5h1.5h1.5l1.2-0.3l0.1-1.4l0.3-1.2l1.4-0.1h1.5h1.5h1.5h1.5l1.3-0.2l0.2-1.3l0.1-1.4l1.3-0.2l1.4-0.1l0.3-1.2l0.1-1.4l1.1-0.4l1.5-0.1l1.2-0.7l1-1l1.1-1l1.5-0.2l1.3-0.1l0.4-1.2l0.1-1.3l1.1-0.5l1.3-0.1l0.6-1l0.1-1.4l0.9-0.5l1.4-0.2l0.6-0.8l0.2-1.4l0.8-0.6l1.4-0.2l0.6-0.8l0.2-1.4l0.7-0.7l1.4-0.2l0.8-0.6l0.2-1.4l0.6-0.9l1.3-0.1l1-0.6l0.1-1.3l0.5-1.1l1.3-0.1l1.1-0.5l0.1-1.3l0.5-1.1l1.4-0.1l1.3-0.3l1.1-0.9l1.1-1.1l1.2-0.7l1.4-0.1l1.1-0.5l0.1-1.3l0.4-1.2l1.4-0.1l1.4-0.2l1.1-1l1.1-1l1.2-0.7l1.4-0.1l1.2-0.4l0.1-1.3l0.3-1.3l1.3-0.1l1.3-0.3l0.1-1.4l0.2-1.2l1.4-0.2l1.3-0.2l0.2-1.3l0.2-1.3l1.3-0.2l1.3-0.1l0.3-1.3l0.1-1.3l1.2-0.4l1.3-0.1l0.4-1.2l0.1-1.3l1.1-0.5h1.5h1.5l1.4-0.1l0.5-0.9l0.2-1.4l0.8-0.6l1.4-0.2l0.6-0.8l0.2-1.4l0.8-0.6l1.5-0.1h1.5l1.4-0.1l0.8-0.7l0.2-1.3l0.6-0.9l1.3-0.1l1.4-0.4l1.1-1l1-1l1.3-0.6l1.4-0.2l0.9-0.5l0.2-1.4l0.5-0.9l1.4-0.1h1.5h1.5l1-0.6l0.1-1.3l0.5-1.1l1.3-0.1l1.4-0.3l1.1-0.9l1.1-1.1l1.2-0.7l1.4-0.1l1.1-0.5l0.1-1.3l0.5-1.1l1.4-0.1h1.5h1.4l1.3-0.3l0.1-1.4l0.2-1.2l1.4-0.2l1.4-0.1l1.1-1l1.1-1l1.1-0.9l1.4-0.1l1.3-0.2l0.2-1.3l0.2-1.4l1.3-0.2h1.4h1.5l1.4-0.1l0.3-1.3l0.1-1.3l1.3-0.3l1.3-0.1l0.4-1.2l0.1-1.3l1.1-0.5l1.4-0.1l1.2-0.7l1.1-1l1.1-1l1.4-0.3l1.3-0.1l0.5-1.1l0.1-1.3l1.1-0.5l1.4-0.1l0.5-1l0.1-1.4l0.9-0.5l1.4-0.2l0.6-0.8l0.2-1.4l0.7-0.7l1.4-0.2l0.7-0.7l0.2-1.4l0.7-0.7l1.4-0.2l0.8-0.7l0.2-1.3l0.6-0.9l1.3-0.1l1-0.6l0.1-1.3l0.5-1.1l1.3-0.1l1.1-0.5l0.1-1.3l0.4-1.2l1.3-0.1l1.3-0.3l0.1-1.3l0.3-1.3l1.4-0.1l1.2-0.2l0.2-1.4l0.2-1.3l1.3-0.2l1.4-0.1l1.1-0.9l1.1-1.1l1.1-1.1l1-1l1.1-1l1.2-0.8l1.4-0.1l1.3-0.3l0.1-1.4l0.2-1.2l1.4-0.2l1.2-0.2l0.2-1.4l0.2-1.3l1.3-0.2l1.3-0.1l0.3-1.3l0.1-1.3l1.3-0.3l1.3-0.1l0.4-1.2l0.1-1.3l1.1-0.5l1.3-0.1l0.5-1.1l0.1-1.4l1-0.5l1.4-0.1l0.5-0.9l0.2-1.4l0.8-0.6l1.4-0.2l0.7-0.7l0.2-1.4l0.7-0.7l1.4-0.2l1.3-0.5l1.1-1l1.1-1l1.3-0.5l1.4-0.1l0.7-0.8l0.2-1.3l0.7-0.8l1.4-0.1l1.3-0.5l1.1-1l1.1-1l1.3-0.5l1.4-0.1l0.7-0.7l0.2-1.4l0.6-0.8l1.4-0.2l0.9-0.5l0.1-1.4l0.6-1l1.3-0.1l1-0.6l0.1-1.3l0.6-1l1.3-0.1l1.1-0.5l0.1-1.3l0.4-1.2l1.3-0.1l1.3-0.3l0.1-1.3l0.1-1.5l1-1.1l1-1.1l1.1-1.1l1-1l1.1-1l1.2-0.7l1.5-0.1l1.1-0.4l0.1-1.4l0.3-1.2l1.4-0.1h1.5h1.5l1.3-0.3l0.1-1.3l0.2-1.3l1.3-0.2l1.4-0.2l0.2-1.2l0.2-1.4l1.2-0.2l1.4-0.1l0.3-1.2l0.1-1.4l1.1-0.4l1.4-0.1l0.4-1.1v-1.5v-1.5v-1.5v-1.5l0.1-1.4l1-0.5l1.3-0.2l0.6-0.9l0.2-1.3l0.8-0.7l1.3-0.2l0.8-0.7l0.2-1.3l0.6-0.9l1.4-0.2l0.9-0.5l0.2-1.4l0.5-0.9l1.4-0.2l0.9-0.5l0.1-1.4l0.5-1l1.4-0.1l1.1-0.4l0.1-1.4l0.3-1.2l1.4-0.1l1.3-0.3l0.1-1.3l0.3-1.3l1.3-0.1l1.3-0.3l0.1-1.3l0.2-1.3l1.3-0.2l1.5-0.1l1.1-0.9l1.1-1.1l1.1-0.9l1.4-0.1l1.3-0.2l0.2-1.3l0.2-1.3l1.3-0.2l1.4-0.2l0.2-1.2l0.1-1.4l1.2-0.3l1.4-0.1l0.4-1.2l0.1-1.3l1.1-0.5l1.3-0.1l0.5-1.1l0.1-1.3l1-0.5l1.4-0.2l1.2-0.6l1.1-1l1.2-0.9l1.3-0.4l1.4-0.1l0.5-1l0.2-1.3l0.9-0.6l1.3-0.2l0.6-0.9l0.2-1.3l0.8-0.7l1.3-0.2l0.8-0.7l0.2-1.3l0.7-0.8l1.3-0.2l0.9-0.6l0.2-1.4l0.5-0.9l1.4-0.2l0.9-0.5l0.1-1.4l0.5-1l1.4-0.1l1.1-0.4l0.1-1.4l0.4-1.1l1.4-0.1l1.2-0.4l0.1-1.3l0.3-1.3l1.3-0.1l1.3-0.3l0.1-1.3l0.2-1.3l1.3-0.2l1.4-0.2l0.2-1.2l0.2-1.4l1.2-0.2l1.4-0.1l0.3-1.2l0.1-1.4l1.1-0.4l1.4-0.1l0.5-1.1l0.1-1.3l1-0.5l1.3-0.2l0.5-1l0.2-1.3l0.9-0.6l1.4-0.2l1.3-0.5l1.1-1l1.1-1l1.3-0.4l1.4-0.1l0.5-1l0.2-1.3l0.9-0.6l1.3-0.2l0.7-0.8l0.2-1.3l0.7-0.8l1.3-0.2l0.9-0.6l0.2-1.3l0.6-0.9l1.4-0.1l1.3-0.5l1.1-1l1-1l1.1-1.1l1.1-1.1l1-1.1l0.4-1.3l0.2-1.4l0.7-0.7l1.4-0.1l1.3-0.5l1.1-1l1-1.1l0.5-1.3l0.1-1.4l0.8-0.7l1.3-0.2l0.8-0.7l0.2-1.3l0.6-0.9l1.4-0.1l1.3-0.4l1.1-1l1.1-1l1.3-0.5l1.4-0.2l0.8-0.6l0.2-1.4l0.5-0.9l1.4-0.1l1-0.6l0.1-1.3l0.5-1.1l1.3-0.1l1.1-0.5l0.1-1.3l0.5-1.1l1.3-0.1l1.4-0.3l1.1-0.9l1.1-1.1l1.2-0.7l1.4-0.1l1.2-0.4l0.1-1.3l0.3-1.3l1.3-0.1l1.3-0.3l0.1-1.3l0.3-1.3l1.4-0.1l1.2-0.2l0.2-1.4l0.1-1.4l0.9-1.1l1.1-1.1l0.9-1.1l0.1-1.5l0.2-1.3l1.3-0.2l1.4-0.1l1.2-0.9l1-1.1l1.2-0.8l1.5-0.1l1.2-0.2l0.2-1.4l0.2-1.3l1.3-0.2l1.3-0.2l0.2-1.3l0.1-1.3l1.3-0.3l1.3-0.1l0.4-1.2l0.1-1.3l1.2-0.4l1.3-0.1l0.5-1.1l0.1-1.4l1-0.5l1.4-0.1l0.5-0.9l0.2-1.4l0.5-1.3l1-1.1l1.1-1.1l1.1-1l1-1.1l1.1-1l1.1-1.1l1-1l1.1-1.1l1-1.1l1.1-1l1-1.1l1.1-1.1l1.1-1l1.2-0.8l1.4-0.1l1.3-0.3l0.1-1.3l0.2-1.3l1.3-0.2l1.3-0.2l0.2-1.3l0.2-1.4l1.2-0.2l1.4-0.1l0.7-0.5M1534.2,579.6l0.1,0.5l-1.3,0.1l-1,0.5l-0.1,1.4v1.5v1.5l-0.4,1.2l-1.3,0.1l-1.2,0.4l-0.1,1.3l-0.4,1.2l-1.3,0.1l-1.3,0.3l-0.1,1.3v1.5v1.5l-0.1,1.5l-0.9,1.1l-1.1,1l-0.9,1.2l-0.1,1.4v1.5v1.5v1.5v1.5v1.5v1.5v1.5v1.5v1.5v1.5v1.5v1.5l-0.1,1.4l-1.1,0.5l-1.3,0.1l-0.5,1l-0.2,1.3l-0.9,0.6l-1.3,0.2l-0.6,0.9l-0.2,1.3l-0.8,0.7l-1.3,0.2l-0.8,0.7l-0.2,1.3l-0.6,0.9l-1.4,0.2l-0.9,0.5l-0.1,1.4v1.5v1.5l-0.5,1l-1.4,0.1l-1,0.5l-0.1,1.4v1.5v1.5v1.5v1.5l-0.4,1.2l-1.3,0.1l-1.3,0.3l-0.1,1.3v1.5v1.5l-0.1,1.5l-1,1.1l-1,1l-0.9,1.2l-0.1,1.4v1.5v1.5l-0.1,1.5l-1,1.1l-1,1.1l-0.8,1.2l-0.1,1.4v1.5v1.5v1.5v1.5l-0.2,1.3l-1.3,0.2l-1.4,0.2l-0.2,1.2v1.5v1.5v1.5v1.5l-0.1,1.4l-1.1,0.4l-1.4,0.1l-0.5,1.1v1.4v1.5v1.5v1.5l-0.1,1.4l-0.8,0.7l-1.3,0.2l-0.8,0.7l-0.1,1.4v1.5v1.5v1.5v1.5v1.5l-0.1,1.5l-0.5,0.9l-1.4,0.2l-0.9,0.5l-0.1,1.4v1.5v1.5v1.5v1.5l-0.4,1.1l-1.4,0.1l-1.2,0.4l-0.1,1.3l-0.2,1.4l-0.9,1.1l-1.1,1.1l-1.2,0.8l-1.4,0.1l-1.2,0.4l-0.1,1.3v1.5v1.5l-0.3,1.3l-1.3,0.1l-1.3,0.2l-0.2,1.3v1.5v1.5v1.5v1.5v1.5v1.5v1.5v1.5l-0.1,1.4l-1.1,0.5l-1.3,0.1l-0.6,1l-0.1,1.3l-1,0.6l-1.3,0.1l-0.6,1v1.4v1.5l-0.1,1.4l-0.8,0.7l-1.4,0.2l-0.7,0.7l-0.1,1.4v1.5l-0.1,1.5l-0.6,0.8l-1.4,0.2l-0.9,0.5l-0.1,1.4v1.5v1.5v1.5v1.5l-0.3,1.4l-1,1.1l-1,1.1l-0.7,1.2l-0.1,1.4v1.5v1.5v1.5v1.5v1.5v1.5l-0.3,1.3l-1.3,0.1l-1.3,0.3l-0.1,1.3v1.5v1.5l-0.2,1.3l-1.3,0.2l-1.4,0.2l-0.2,1.3v1.4v1.5l-0.1,1.4l-1.2,0.4l-1.3,0.1l-0.5,1.1v1.4v1.5l-0.1,1.4l-1,0.6l-1.3,0.1l-0.6,1v1.4v1.5v1.5v1.5l-0.1,1.5l-0.8,0.6l-1.4,0.2l-0.7,0.7l-0.1,1.4v1.5l-0.1,1.5l-0.6,0.8l-1.4,0.2l-0.9,0.5l-0.1,1.4l-0.6,1l-1.3,0.1l-1,0.6l-0.1,1.3l-0.5,1.1l-1.3,0.1l-1.2,0.4l-0.1,1.3v1.5v1.5l-0.3,1.3l-1.3,0.1l-1.3,0.2l-0.2,1.3v1.5v1.5l-0.1,1.4l-1.3,0.3l-1.3,0.1l-0.4,1.2v1.4v1.5v1.5v1.5l-0.1,1.4l-1,0.6l-1.3,0.1l-0.6,1v1.4v1.5v1.5v1.5v1.5v1.5l-0.1,1.5l-0.5,1.3l-1,1.1l-1,1l-0.5,1.4l-0.1,1.3l-0.8,0.7l-1.4,0.2l-0.7,0.7l-0.2,1.4l-0.6,0.8l-1.4,0.2l-0.8,0.6l-0.2,1.4l-0.6,0.8l-1.4,0.2l-0.9,0.5l-0.1,1.4l-0.5,1l-1.4,0.1l-1.1,0.5l-0.1,1.3l-0.3,1.4l-0.9,1.1l-1,1.1l-0.7,1.2l-0.1,1.4l-0.5,1.1l-1.4,0.1l-1.1,0.4l-0.1,1.4v1.5v1.5l-0.2,1.2l-1.4,0.2l-1.3,0.2l-0.2,1.3v1.5v1.5v1.5v1.5l-0.1,1.4l-1.2,0.3l-1.4,0.1l-0.4,1.1v1.5v1.5v1.5v1.5l-0.1,1.4l-0.9,0.5l-1.4,0.2l-0.5,0.9l-0.2,1.5l-0.6,1.2l-1.1,1.1l-0.9,1.1l-0.4,1.3l-0.1,1.4l-1,0.5l-1.3,0.2l-0.6,0.9l-0.1,1.4v1.5l-0.1,1.4l-0.8,0.7l-1.3,0.2l-0.7,0.8l-0.1,1.4v1.5l-0.1,1.4l-0.6,0.9l-1.4,0.2l-0.9,0.5l-0.1,1.4v1.5v1.5l-0.5,1l-1.4,0.1l-1.1,0.4l-0.1,1.4l-0.3,1.2l-1.4,0.1l-1.2,0.3l-0.1,1.4v1.5v1.5l-0.3,1.3l-1.3,0.1l-1.3,0.2l-0.2,1.3v1.5v1.5l-0.1,1.4l-1.2,0.3l-1.4,0.1l-0.4,1.1v1.5v1.5l-0.1,1.4l-1,0.5l-1.4,0.1l-0.5,1l-0.1,1.4v1.5v1.5v1.5v1.5v1.5l-0.1,1.5l-0.5,1.3l-1,1.1l-0.9,1.1l-0.5,1.3l-0.1,1.4l-0.8,0.6l-1.4,0.2l-0.7,0.7l-0.2,1.4l-0.7,0.8l-1.3,0.2l-0.9,0.6l-0.1,1.3l-0.6,1l-1.3,0.1l-1,0.6l-0.1,1.4l-0.4,1.3l-1,1.1l-1,1.1l-0.6,1.2l-0.2,1.4l-0.5,1l-1.3,0.1l-1.1,0.5l-0.1,1.4v1.5v1.5l-0.4,1.1l-1.4,0.1l-1.1,0.4l-0.1,1.4v1.5v1.5l-0.2,1.2l-1.4,0.2l-1.3,0.2l-0.2,1.3l-0.2,1.3l-1.3,0.2l-1.3,0.1l-0.3,1.3l-0.1,1.3l-1.2,0.4l-1.4,0.1l-0.4,1.1l-0.1,1.4l-0.7,1.3l-1,1l-1,1.1l-0.2,1.4v1.5v1.5l-0.1,1.4l-1.1,0.5l-1.3,0.1l-0.6,1v1.4v1.5l-0.1,1.4l-0.9,0.6l-1.3,0.2l-0.7,0.8l-0.1,1.4v1.5l-0.1,1.5l-0.6,0.8l-1.4,0.2l-0.8,0.6l-0.1,1.4l-0.5,1.3l-1,1.1l-1,1.1l-0.5,1.3l-0.2,1.4l-0.6,0.8l-1.4,0.2l-0.9,0.6l-0.2,1.3l-0.6,0.9l-1.3,0.2l-0.9,0.6l-0.1,1.4v1.5v1.4l-0.5,1.1l-1.3,0.1l-1.2,0.4l-0.1,1.4v1.5v1.4l-0.3,1.3l-1.3,0.1l-1.3,0.2l-0.2,1.4v1.5v1.5v1.5v1.5l-0.1,1.3l-1.3,0.3l-1.3,0.1l-0.3,1.3v1.5v1.5v1.5v1.5l-0.1,1.4l-0.7,1.2l-1.1,1.1l-0.9,1.1l-0.3,1.4v1.5v1.5l-0.1,1.3l-1.1,0.5l-1.4,0.1l-0.5,1l-0.1,1.4l-0.6,1.3l-1,1l-1,1.1l-0.4,1.4l-0.1,1.4l-1,0.5l-1.4,0.1l-0.5,1l-0.1,1.4l-0.9,0.5l-1.4,0.2l-0.6,0.9l-0.2,1.3l-0.8,0.7l-1.3,0.2l-0.8,0.7l-0.2,1.3l-0.6,0.9l-1.3,0.2l-0.9,0.6l-0.1,1.4l-0.5,1.3l-1,1.1l-1,1.1l-0.5,1.2l-0.2,1.4l-0.6,0.9l-1.3,0.2l-1,0.5l-0.2,1.3l-0.5,1l-1.4,0.1l-1,0.5l-0.1,1.4l-0.3,1.4l-1,1.1l-1,1.1l-1.1,1l-1,1.1l-1.1,1l-0.5,1.3l-0.2,1.4l-0.6,0.9l-1.3,0.2l-1,0.5l-0.1,1.3l-0.5,1.1l-1.3,0.1l-1.1,0.5l-0.1,1.3l-0.4,1.2l-1.4,0.1l-1.2,0.3l-0.1,1.4l-0.3,1.2l-1.4,0.1l-1.2,0.2l-0.2,1.4l-0.1,1.4l-0.9,1.2l-1.1,1l-0.8,1.2l-0.1,1.4l-0.3,1.3l-1.4,0.1l-1.2,0.2l-0.2,1.4v1.5v1.5l-0.1,1.3l-1.3,0.3l-1.3,0.1l-0.4,1.2l-0.1,1.4l-0.8,1.2l-1.1,1.1l-1.1,0.9l-1.4,0.2l-1.3,0.1l-0.3,1.3l-0.1,1.4l-0.8,1.2l-1.1,1.1l-1,1l-1.1,1.1l-1.1,1l-0.9,1.1l-0.1,1.5l-0.2,1.3l-1.3,0.2l-1.3,0.2l-0.2,1.3v1.5v1.5l-0.1,1.3l-1.3,0.3l-1.3,0.1l-0.4,1.2l-0.1,1.4l-0.8,1.2l-1,1.1l-1,1.1l-0.2,1.4l-0.1,1.4l-1.1,0.4l-1.4,0.1l-0.4,1.1l-0.1,1.5l-0.8,1.1l-1,1.1l-1,1.1l-0.2,1.4l-0.1,1.4l-1.1,0.4l-1.4,0.1l-0.5,1.1l-0.1,1.3l-1.1,0.5l-1.3,0.1l-0.5,1l-0.2,1.3l-0.9,0.6l-1.4,0.2l-1.2,0.6l-1.1,1l-1,1.1l-0.4,1.3l-0.1,1.4l-1,0.5l-1.3,0.2l-0.6,0.9l-0.1,1.4v1.5l-0.1,1.4l-0.7,0.8l-1.3,0.2l-0.8,0.7l-0.2,1.3l-0.7,0.8l-1.4,0.2l-0.8,0.6l-0.2,1.4l-0.5,0.9l-1.4,0.1l-1,0.5l-0.1,1.4l-0.5,1.1l-1.3,0.1l-1.1,0.5l-0.1,1.3l-0.4,1.2l-1.3,0.1l-1.3,0.3l-0.1,1.3l-0.3,1.3l-1.3,0.1l-1.3,0.2l-0.2,1.3l-0.1,1.5l-0.9,1.1l-1,1.1l-0.9,1.2l-0.1,1.4l-0.3,1.3l-1.3,0.1l-1.3,0.2l-0.2,1.3l-0.2,1.4l-1.2,0.2l-1.4,0.1l-0.3,1.2l-0.1,1.4l-1.1,0.4l-1.4,0.1l-0.5,1.1l-0.1,1.3l-1.1,0.5l-1.4,0.1l-1.2,0.7l-1,1l-1.1,1.1l-1.1,1.1l-1,1l-1.1,1l-1.4,0.2l-1.4,0.1l-0.3,1.3l-0.1,1.4l-0.8,1.2l-1.1,1l-0.9,1.1l-0.2,1.4l-0.1,1.4l-1.2,0.3l-1.4,0.1l-0.4,1.2l-0.1,1.3l-1.1,0.5l-1.3,0.1l-0.5,1l-0.2,1.3l-1,0.5l-1.3,0.2l-0.5,1l-0.2,1.3l-0.9,0.6l-1.3,0.2l-0.7,0.8l-0.2,1.4l-0.7,0.7l-1.4,0.2l-0.8,0.6l-0.2,1.4l-0.6,0.8l-1.4,0.1l-1.3,0.5l-1.1,1l-1.1,1.1l-1,1l-1.1,1.1l-1,1.1l-0.5,1.3l-0.1,1.4l-0.7,0.7l-1.4,0.2l-0.7,0.7l-0.2,1.4l-0.7,0.7l-1.4,0.2l-0.8,0.7l-0.2,1.3l-0.6,0.9l-1.3,0.1l-1,0.6l-0.1,1.3l-0.5,1.1l-1.4,0.1h-1.5h-1.4l-1.2,0.4l-0.1,1.3l-0.4,1.2l-1.3,0.1l-1.3,0.3l-0.1,1.4l-0.2,1.2l-1.4,0.2l-1.4,0.1l-1.1,1l-1.1,1l-1.1,0.9l-1.4,0.1l-1.3,0.2l-0.2,1.3l-0.2,1.4l-1.3,0.2l-1.3,0.1l-0.3,1.3l-0.1,1.3l-1.3,0.3l-1.3,0.1l-0.3,1.3l-0.1,1.3l-1.2,0.4l-1.4,0.1l-1.2,0.7l-1.1,1.1l-1.1,0.9l-1.4,0.3l-1.3,0.1l-0.5,1.1l-0.1,1.3l-1.1,0.5h-1.5h-1.5l-1.4,0.1l-0.5,1l-0.1,1.4l-0.9,0.5l-1.5,0.1h-1.5l-1.4,0.1l-0.6,0.8l-0.2,1.4l-0.7,0.7l-1.5,0.1h-1.5l-1.4,0.1l-0.9,0.6l-0.2,1.3l-0.6,0.9l-1.4,0.1h-1.5h-1.4l-1.4,0.4l-1.1,1l-1.1,1l-1.2,0.6l-1.5,0.1h-1.5l-1.4,0.1l-1,0.5l-0.1,1.3l-0.5,1.1l-1.4,0.1h-1.5h-1.5l-1.4,0.2l-1.1,1l-1.1,1l-1.2,0.7l-1.4,0.1h-1.5h-1.5h-1.5h-1.5h-1.5h-1.5l-1.3,0.3l-0.1,1.3l-0.2,1.3l-1.3,0.2h-1.5h-1.5h-1.5h-1.5h-1.5h-1.5l-1.4,0.1l-0.4,1.2l-0.1,1.3l-1.1,0.5h-1.4h-1.5h-1.5h-1.5h-1.5h-1.5h-1.5h-1.5l-1.4,0.1l-0.7,0.8l-0.2,1.4l-0.7,0.7l-1.4,0.1h-1.5h-1.5h-1.5h-1.5h-1.5h-1.5h-1.5h-1.5l-1.4,0.2"/>
<path stroke="#ff0000" stroke-width="9.2" d="M1492.4,579.6h41.8M991.1,1345.2l-20,1.7h-106.1"/>
<path stroke="#0000ff" stroke-width="9.3" d="M336,1345.6l1.3-0.6l1.5-0.3h1.5h1.5h1.5h1.5h1.5h1.5h1.5h1.5h1.5h1.5h1.5h1.5h1.5h1.5h1.5h1.5h1.5h1.5h1.5h1.5h1.5h1.5h1.5h1.5h1.5h1.5h1.5h1.5h1.5h1.5h1.5h1.5h1.5h1.5h1.5h1.5h1.5h1.5h1.5l1.4-0.1l1.2-0.8l1.1-1l1.1-1l1.4-0.2h1.5h1.5h1.5h1.5h1.5h1.5h1.5h1.5l1.5-0.1l1.2-0.6l1.1-1.1l1.1-0.9l1.3-0.4h1.5h1.5h1.5h1.5l1.5-0.1l1.2-0.6l1.1-1l1.1-1l1.3-0.4h1.5h1.5h1.5h1.5l1.4-0.1l0.7-0.8l0.2-1.3l0.8-0.7l1.4-0.1h1.5h1.5h1.5l1.5-0.1l0.8-0.6l0.2-1.4l0.5-0.9l1.4-0.1h1.5h1.5h1.5h1.5l1.1-0.4l0.1-1.4l0.4-1.2l1.3-0.1h1.5h1.5h1.5h1.5l1.5-0.1l1.1-1l1.1-1l1.1-0.8l1.5-0.1h1.5h1.5h1.5h1.5h1.5h1.5l1.4-0.2l0.2-1.2l0.1-1.4l1.2-0.3h1.5h1.5h1.5h1.5l1.4-0.1l0.5-1.1l0.1-1.3l1-0.5l1.4-0.1h1.5h1.5h1.5h1.5h1.5l1.4-0.1l0.7-0.8l0.2-1.3l0.8-0.7l1.4-0.1h1.5h1.5h1.5l1.5-0.1l0.9-0.5l0.1-1.4l0.5-1l1.4-0.1h1.5h1.5h1.5h1.5l1.2-0.3l0.1-1.4l0.3-1.3l1.3-0.1h1.5h1.5h1.5h1.5l1.4-0.2l0.2-1.2l0.2-1.4l1.2-0.2h1.5h1.5h1.5h1.5l1.4-0.1l0.4-1.1l0.1-1.4l1.1-0.5h1.4h1.5h1.5h1.5l1.4-0.1l0.6-0.9l0.2-1.3l0.8-0.7l1.4-0.1h1.5l1.5-0.1l1.3-0.5l1.1-1l1-1l1.3-0.4l1.5-0.1h1.5l1.4-0.1l0.8-0.7l0.2-1.3l0.7-0.8l1.4-0.1h1.5h1.5h1.5h1.5l1-0.5l0.1-1.4l0.5-1.1l1.3-0.1h1.5h1.5l1.2-0.4l0.1-1.3l0.3-1.3l1.3-0.1h1.5h1.5l1.3-0.2l0.2-1.3l0.2-1.3l1.3-0.2h1.5h1.5l1.4-0.1l0.3-1.2l0.1-1.4l1.2-0.4h1.4h1.5l1.4-0.1l0.5-1.1l0.1-1.3l1-0.5l1.4-0.1h1.5l1.4-0.1l0.7-0.8l0.2-1.3l0.7-0.8l1.4-0.1h1.5l1.5-0.1l0.8-0.6l0.2-1.4l0.6-0.8l1.4-0.2l0.9-0.5l0.1-1.4l0.5-1l1.4-0.1h1.5h1.5l1.1-0.5l0.1-1.3l0.4-1.2l1.3-0.1l1.3-0.3l0.1-1.3l0.3-1.3l1.3-0.1h1.5h1.5l1.3-0.2l0.2-1.3l0.2-1.4l1.2-0.2l1.4-0.1l0.3-1.2l0.1-1.4l1.2-0.4h1.4h1.5l1.4-0.1l0.5-1.1l0.1-1.3l1.1-0.5h1.4h1.5l1.4-0.1l0.6-0.9l0.2-1.3l0.8-0.7l1.4-0.1h1.5l1.5-0.1l1.3-0.5l1.1-1l1.1-1l1.3-0.5h1.4h1.5l1.5-0.1l0.7-0.7l0.2-1.4l0.6-0.8l1.4-0.1h1.5h1.5l1-0.6l0.1-1.3l0.6-1l1.3-0.1h1.5h1.5l1.1-0.5l0.1-1.3l0.4-1.2l1.3-0.1h1.5h1.5l1.3-0.3l0.1-1.3l0.2-1.3l1.3-0.2h1.5h1.5l1.4-0.1l0.3-1.3l0.1-1.3l1.3-0.3h1.4h1.5l1.4-0.1l0.4-1.2l0.1-1.3l1.1-0.5l1.3-0.1l0.6-1l0.1-1.3l0.9-0.6l1.4-0.1h1.5l1.5-0.1l0.6-0.8l0.2-1.4l0.8-0.6l1.4-0.2l0.7-0.7l0.2-1.4l0.6-0.8l1.4-0.1h1.5l1.5-0.1l0.9-0.5l0.1-1.4l0.6-1l1.3-0.1h1.5h1.5l1.2-0.4l0.1-1.3l0.3-1.3l1.3-0.1h1.5h1.5l1.3-0.2l0.2-1.3l0.2-1.3l1.3-0.2l1.5-0.1l1.1-0.9l1.1-1.1l1.1-0.9l1.5-0.1l1.2-0.2l0.2-1.4l0.2-1.3l1.3-0.2l1.3-0.1l0.3-1.3l0.1-1.3l1.3-0.3h1.5h1.5l1.3-0.1l0.4-1.2l0.1-1.3l1.1-0.5h1.5h1.5l1.4-0.1l0.5-0.9l0.2-1.4l0.8-0.6l1.4-0.2l0.6-0.8l0.2-1.4l0.8-0.6l1.5-0.1h1.5l1.4-0.1l0.8-0.6l0.2-1.4l0.6-0.9l1.3-0.1l1-0.6l0.1-1.3l0.5-1.1l1.3-0.1l1.1-0.5l0.1-1.3l0.5-1.1l1.4-0.1l1.3-0.3l1.1-0.9l1.1-1.1l1.2-0.7l1.4-0.1l1.1-0.5l0.1-1.3l0.4-1.2l1.4-0.1l1.4-0.2l1.1-1l1.1-1l1.1-0.8l1.5-0.1l1.1-0.4l0.1-1.4l0.4-1.1l1.4-0.1h1.5h1.5l1.2-0.2l0.2-1.4l0.2-1.3l1.3-0.2l1.4-0.1l1.2-0.9l1-1.1l1.1-0.9l1.5-0.1l1.3-0.2l0.2-1.3l0.2-1.3l1.3-0.2h1.5h1.5l1.3-0.1l0.3-1.3l0.1-1.3l1.2-0.4l1.4-0.1l1.2-0.8l1.1-1l1.1-1l1.4-0.2l1.4-0.1l0.3-1.2l0.1-1.4l1.1-0.4l1.4-0.1l0.5-1l0.1-1.4l1-0.5l1.4-0.1l0.5-0.9l0.2-1.4l0.9-0.6l1.4-0.2l1.2-0.5l1.1-1l1-1.1l1.1-1.1l1.1-1l1.1-1.1l1-1l1.1-1.1l1.1-0.9l1.4-0.3l1.3-0.1l0.4-1.2l0.1-1.4l1.1-0.4l1.4-0.1l0.5-1l0.1-1.4l1-0.5l1.4-0.1l0.5-0.9l0.2-1.4l0.8-0.6l1.4-0.2l0.6-0.8l0.2-1.4l0.8-0.7l1.4-0.2l1.3-0.4l1-1l1.1-1.1l1.1-1.1l1-1l1.1-1l1.1-1.1l1-1.1l1.1-1l1.4-0.3l1.4-0.1l0.5-1l0.1-1.4l0.9-0.5l1.4-0.2l0.6-0.8l0.2-1.4l0.8-0.6l1.4-0.2l0.6-0.8l0.2-1.4l0.7-0.7l1.4-0.2l0.8-0.7l0.2-1.3l0.6-0.9l1.4-0.1h1.5h1.4l1-0.6l0.1-1.3l0.6-1l1.4-0.1h1.5h1.5h1.5h1.5l1.2-0.3l0.1-1.4l0.2-1.2l1.4-0.2l1.2-0.2l0.2-1.4l0.2-1.3l1.3-0.2l1.3-0.1l0.3-1.3l0.1-1.3l1.2-0.4l1.3-0.1l0.5-1.1l0.1-1.3l1.1-0.5l1.4-0.1l1.2-0.8l1.1-1l1-1.1l0.2-1.4l0.1-1.4l1.1-0.4l1.5-0.1l1.2-0.7l1-1l1.1-1.1l1-1l1.1-1.1l1.1-1l1.5-0.1l1.3-0.1l0.3-1.3l0.1-1.3l1.2-0.4l1.3-0.1l0.5-1.1l0.1-1.3l1.1-0.5l1.3-0.1l0.5-1.1l0.1-1.3l1-0.6h1.5h1.5l1.4-0.1l0.6-0.8l0.2-1.4l0.7-0.7l1.4-0.2l0.7-0.7l0.2-1.4l0.6-0.8l1.4-0.1l1.4-0.5l1.1-0.9l1.1-1l1.3-0.5l1.4-0.2l0.7-0.7l0.2-1.4l0.6-0.8l1.4-0.1l1.4-0.5l1-0.9l1.1-1.1l1.3-0.5l1.4-0.2l0.9-0.6l0.2-1.3l0.6-0.9l1.3-0.2l0.9-0.6l0.1-1.3l0.6-1l1.3-0.1l1.1-0.5l0.1-1.3l0.4-1.2l1.3-0.1l1.3-0.3l0.1-1.3l0.3-1.3l1.3-0.1l1.3-0.3l0.1-1.4l0.2-1.2l1.4-0.2l1.3-0.2l0.2-1.3l0.1-1.3l1.3-0.3l1.3-0.1l0.4-1.2l0.1-1.3l1.2-0.4l1.3-0.1l0.4-1.2l0.1-1.3l1.1-0.5l1.3-0.1l0.6-1l0.1-1.4l0.9-0.5l1.4-0.2l0.6-0.8l0.2-1.4l0.7-0.7l1.4-0.1l1.3-0.5l1.1-1l1.1-1l1.3-0.5l1.4-0.1l0.7-0.8l0.2-1.3l0.7-0.8l1.4-0.2l0.8-0.6l0.2-1.4l0.5-0.9l1.4-0.1h1.5h1.5l1-0.5l0.1-1.4l0.5-1l1.4-0.1l1.1-0.4l0.1-1.4l0.4-1.2l1.3-0.1l1.3-0.3l0.1-1.3l0.2-1.3l1.3-0.2l1.3-0.2l0.2-1.3l0.2-1.3l1.3-0.2l1.4-0.2l0.2-1.2l0.1-1.4l1.2-0.3l1.4-0.1l0.4-1.1l0.1-1.4l1.1-0.5l1.3-0.1l0.5-1.1l0.1-1.3l1-0.5l1.4-0.2l1.2-0.6l1.1-1l1-1.1l0.4-1.3l0.1-1.4l1-0.5l1.4-0.2l1.2-0.6l1.1-1.1l1-1l1.1-1.1l1.1-1l1.1-1l1.4-0.2l1.4-0.1l0.4-1.1l0.1-1.4l1-0.5l1.4-0.1l0.5-1l0.1-1.5l0.6-1.2l1.1-1.1l1.1-0.9l1.3-0.4l1.4-0.1l0.5-1l0.2-1.4l0.6-1.2l1.1-1.1l1-1l1.4-0.3l1.4-0.1l0.5-1l0.1-1.4l1-0.5l1.4-0.1h1.5l1.4-0.1l0.6-0.9l0.2-1.3l0.9-0.6l1.4-0.1h1.5l1.4-0.1l0.8-0.7l0.2-1.3l0.6-0.9l1.3-0.2l0.9-0.6l0.2-1.4l0.5-0.9l1.4-0.1l1-0.5l0.1-1.4v-1.5v-1.5v-1.5v-1.5l0.3-1.2l1.4-0.1l1.3-0.3l0.1-1.3l0.2-1.3l1.3-0.2l1.4-0.1l0.2-1.3l0.1-1.4l1.3-0.2h1.5h1.5l1.4-0.1l0.3-1.2l0.1-1.4l1.1-0.4l1.4-0.1l0.5-1l0.1-1.4l1-0.5l1.4-0.2l1.2-0.6l1.1-1l1.1-1.1l1-1l1.1-1.1l1.1-1.1l1-1l1.1-1.1l1-1.1l1.1-1l1.1-1.1l1.1-0.8l1.5-0.1l1.2-0.2l0.2-1.4l0.2-1.3l1.3-0.2l1.4-0.1l1.2-0.9l1-1.1l1.1-0.9l1.5-0.1l1.3-0.2l0.2-1.3l0.1-1.3l1.3-0.3l1.3-0.1l0.4-1.2l0.1-1.3l1.2-0.4l1.3-0.1l0.4-1.2l0.1-1.4l0.8-1.2l1-1.1l0.9-1.1l0.3-1.4l0.1-1.3l1.2-0.4l1.4-0.1l0.4-1.1l0.1-1.4l1-0.5l1.4-0.1l0.5-1l0.1-1.4l0.9-0.5l1.5-0.2l1.2-0.6l1.1-1l1.1-0.9l1.4-0.4l1.4-0.1l0.5-0.9l0.2-1.4l0.8-0.6l1.4-0.2l0.6-0.8l0.2-1.4l0.7-0.7l1.4-0.2l0.8-0.7l0.2-1.3l0.6-0.9l1.3-0.1l1-0.6l0.1-1.3l0.6-1l1.3-0.1l1-0.6l0.1-1.3l0.5-1.1l1.4-0.1l1.4-0.3l1.1-1l1-1l1.2-0.7l1.4-0.1l1.1-0.5l0.1-1.3l0.5-1.1l1.4-0.1l1.4-0.3l1.1-1l1-1l0.7-1.2l0.1-1.5l0.3-1.4l1-1.1l1-1l0.7-1.2l0.1-1.4l0.5-1.1l1.3-0.1l1.1-0.5l0.1-1.4l0.4-1.1l1.4-0.1l1.2-0.3l0.1-1.4l0.2-1.2l1.4-0.2l1.3-0.2l0.2-1.3l0.2-1.3l1.3-0.2l1.4-0.1l1.2-1l1-1l1.1-0.9l1.5-0.1l1.3-0.2l0.2-1.3l0.1-1.4l1.1-0.9M1205.9,834.2l0.1,1.1l-0.9,1.1l-1,1.1l-0.6,1.2l-0.1,1.5v1.5v1.5l-0.4,1.3l-1,1.1l-1,1.1l-0.5,1.3l-0.1,1.5v1.5v1.4l-0.6,1l-1.3,0.1l-1.1,0.5l-0.1,1.3l-0.5,1.1l-1.3,0.1l-1.2,0.4l-0.1,1.4v1.5v1.5l-0.2,1.2l-1.4,0.2l-1.2,0.2l-0.2,1.4l-0.2,1.2l-1.4,0.2l-1.3,0.2l-0.2,1.3v1.5v1.5l-0.1,1.4l-0.8,1.2l-1.1,1l-0.9,1.1l-0.2,1.4l-0.1,1.4l-1.3,0.3l-1.3,0.1l-0.3,1.3l-0.1,1.4l-0.8,1.2l-1,1l-1,1.1l-0.2,1.5l-0.1,1.3l-1.3,0.3l-1.3,0.1l-0.4,1.2l-0.1,1.4l-0.7,1.2l-1.1,1.1l-0.9,1.1l-0.3,1.4v1.5v1.5l-0.1,1.3l-1.1,0.5l-1.3,0.1l-0.5,1.1v1.5v1.5v1.5v1.5v1.5v1.5v1.5v1.5l-0.1,1.4l-0.8,0.7l-1.3,0.2l-0.8,0.7l-0.1,1.4v1.5l-0.1,1.4l-0.6,0.9l-1.3,0.2l-1,0.5l-0.1,1.4v1.5v1.5v1.5v1.4l-0.4,1.2l-1.3,0.1l-1.2,0.4l-0.1,1.4l-0.3,1.2l-1.4,0.1l-1.2,0.2l-0.2,1.4l-0.2,1.4l-0.9,1.1l-1.1,1.1l-0.8,1.1l-0.1,1.5l-0.2,1.2l-1.4,0.2l-1.3,0.2l-0.2,1.3v1.5v1.5l-0.1,1.3l-1.3,0.3l-1.3,0.1l-0.3,1.3l-0.1,1.5l-0.8,1.1l-1.1,1.1l-0.9,1.1l-0.2,1.4l-0.1,1.4l-1.3,0.2l-1.4,0.1l-0.3,1.2v1.5v1.5l-0.1,1.4l-1,0.5l-1.4,0.1l-0.5,1l-0.1,1.4l-1,0.5l-1.4,0.1l-0.5,1l-0.1,1.4v1.5l-0.1,1.4l-0.8,0.7l-1.3,0.2l-0.8,0.7l-0.1,1.4v1.5l-0.1,1.4l-0.6,0.9l-1.3,0.2l-0.9,0.6l-0.1,1.4v1.5v1.5l-0.5,1l-1.4,0.1l-1.1,0.4l-0.1,1.4v1.5v1.5l-0.3,1.2l-1.4,0.1l-1.3,0.3l-0.1,1.3l-0.2,1.3l-1.3,0.2l-1.4,0.1l-0.2,1.3v1.5v1.5l-0.1,1.4l-1.2,0.3l-1.4,0.1l-0.3,1.2l-0.1,1.5l-0.8,1.1l-1,1.1l-1,1.1l-0.2,1.4l-0.1,1.4l-1.2,0.3l-1.4,0.1l-0.4,1.2v1.4v1.5l-0.1,1.4l-1,0.5l-1.3,0.2l-0.5,1l-0.1,1.4v1.5l-0.1,1.4l-0.9,0.6l-1.3,0.2l-0.7,0.8l-0.2,1.3l-0.7,0.8l-1.4,0.2l-0.8,0.6l-0.1,1.4l-0.4,1.3l-1,1.1l-1,1.1l-0.5,1.3l-0.2,1.4l-0.7,0.8l-1.3,0.2l-0.9,0.6l-0.1,1.4v1.5l-0.1,1.4l-0.5,1l-1.3,0.1l-1.1,0.5l-0.1,1.4v1.5v1.5v1.5v1.5l-0.3,1.2l-1.4,0.1l-1.2,0.2l-0.2,1.4l-0.2,1.3l-1.3,0.2l-1.3,0.2l-0.2,1.3l-0.1,1.3l-1.3,0.3l-1.3,0.1l-0.4,1.2l-0.1,1.3l-1.2,0.4l-1.4,0.1l-0.4,1.1l-0.1,1.4l-1,0.5l-1.4,0.1l-0.5,1v1.5v1.5l-0.1,1.4l-0.8,0.6l-1.4,0.2l-0.7,0.8l-0.2,1.4l-0.5,1.2l-1,1.1l-1,1.1l-0.5,1.3l-0.1,1.4l-0.8,0.7l-1.3,0.2l-0.7,0.8l-0.2,1.3l-0.8,0.7l-1.3,0.2l-0.8,0.7l-0.1,1.4l-0.5,1.3l-1,1.1l-1,1.1l-0.5,1.2l-0.2,1.4l-0.7,0.8l-1.3,0.2l-0.9,0.6l-0.1,1.4v1.5v1.5l-0.5,1l-1.4,0.1l-1,0.5l-0.1,1.4v1.5v1.5l-0.4,1.1l-1.4,0.1l-1.2,0.3l-0.1,1.4l-0.3,1.3l-1.3,0.1l-1.3,0.2l-0.2,1.3l-0.2,1.4l-1.2,0.2l-1.4,0.2l-0.2,1.2l-0.2,1.4l-1.2,0.2l-1.4,0.1l-0.3,1.2l-0.1,1.4l-1.1,0.4l-1.4,0.1l-0.5,1.1l-0.1,1.3l-1,0.5l-1.3,0.2l-0.5,1l-0.2,1.3l-1,0.5l-1.3,0.2l-0.6,0.9l-0.1,1.4v1.5l-0.1,1.4l-0.7,0.8l-1.3,0.2l-0.9,0.6l-0.1,1.4l-0.4,1.3l-1,1.1l-1,1.1l-0.5,1.3l-0.2,1.4l-0.7,0.8l-1.3,0.2l-0.9,0.6l-0.1,1.4v1.5v1.4l-0.6,1l-1.3,0.1l-1.1,0.5l-0.1,1.4v1.5v1.5l-0.3,1.2l-1.4,0.1l-1.2,0.2l-0.2,1.4v1.5v1.5l-0.2,1.3l-1.3,0.2l-1.3,0.2l-0.2,1.3l-0.1,1.4l-0.9,1.2l-1,1l-1,1.1l-0.1,1.5l-0.2,1.3l-1.3,0.2l-1.4,0.1l-1.2,0.9l-1,1.1l-1.1,0.9l-1.5,0.1l-1.3,0.2l-0.2,1.3l-0.1,1.3l-1.3,0.3l-1.3,0.1l-0.4,1.2l-0.1,1.3l-1.2,0.4l-1.3,0.1l-0.4,1.2l-0.1,1.3l-1.1,0.5l-1.4,0.1l-0.5,1l-0.1,1.4l-0.6,1.3l-1,1l-1,1.1l-0.4,1.4l-0.1,1.4l-1,0.5l-1.4,0.1l-0.5,0.9l-0.2,1.4l-0.9,0.6l-1.3,0.2l-0.6,0.9l-0.2,1.3l-0.8,0.7l-1.3,0.2l-0.8,0.7l-0.2,1.4l-0.4,1.3l-1,1l-1,1.1l-0.5,1.3l-0.2,1.4l-0.7,0.8l-1.3,0.2l-0.8,0.7l-0.2,1.3l-0.7,0.8l-1.3,0.2l-0.9,0.6l-0.2,1.3l-0.5,1l-1.4,0.1l-1,0.5l-0.1,1.4l-0.4,1.1l-1.4,0.1l-1.2,0.3l-0.1,1.4l-0.3,1.2l-1.4,0.1l-1.2,0.3l-0.1,1.4l-0.3,1.3l-1.3,0.1l-1.3,0.2l-0.2,1.3l-0.1,1.4l-1.3,0.2l-1.4,0.1l-0.3,1.2l-0.1,1.4l-1.1,0.4h-1.5h-1.5l-1.4,0.1l-0.5,1l-0.1,1.4l-1,0.5l-1.4,0.1l-0.5,1l-0.2,1.3l-0.9,0.6l-1.3,0.2l-0.6,0.9l-0.2,1.3l-0.8,0.7l-1.3,0.2l-0.8,0.7l-0.2,1.3l-0.7,0.8l-1.3,0.2l-0.9,0.6l-0.1,1.4l-0.4,1.3l-1,1.1l-1.1,1l-1.2,0.6l-1.5,0.2l-0.8,0.6l-0.2,1.4l-0.6,0.8l-1.4,0.2l-0.9,0.5l-0.1,1.4l-0.5,1l-1.4,0.1l-1.1,0.4l-0.1,1.4l-0.4,1.2l-1.3,0.1l-1.2,0.4l-0.1,1.3l-0.3,1.3l-1.3,0.1l-1.5,0.1l-1.1,1l-1.1,1l-1.1,0.8l-1.5,0.1l-1.2,0.3l-0.1,1.4l-0.3,1.3l-1.3,0.1l-1.3,0.2l-0.2,1.3l-0.1,1.4l-1.3,0.2l-1.4,0.1l-0.3,1.2l-0.1,1.4l-1.2,0.3l-1.4,0.1l-0.4,1.1l-0.1,1.4l-1,0.5l-1.5,0.1l-1.2,0.7l-1,1l-1,1.1l-0.3,1.4l-0.1,1.4l-1.2,0.4h-1.4h-1.5l-1.4,0.1l-0.5,1.1l-0.1,1.3l-1,0.5l-1.4,0.1h-1.5l-1.4,0.1l-0.7,0.8l-0.2,1.3l-0.7,0.8l-1.3,0.2l-0.8,0.7l-0.2,1.4l-0.6,0.8l-1.4,0.1h-1.5h-1.5l-1.4,0.4l-1.1,0.9l-1.1,1l-1.2,0.6l-1.5,0.1l-1.3,0.5l-1.1,1l-1.1,1l-1.2,0.5l-1.5,0.2l-0.8,0.6l-0.2,1.4l-0.5,0.9l-1.4,0.1l-1.3,0.4l-1.2,1l-1.1,1l-1.2,0.5l-1.4,0.2l-0.9,0.6l-0.2,1.4l-0.5,0.9l-1.4,0.1h-1.5h-1.5l-1,0.5l-0.1,1.4l-0.4,1.1l-1.4,0.1l-1.4,0.2l-1.1,1l-1.1,1l-1.2,0.8l-1.4,0.1l-1.1,0.5l-0.1,1.3l-0.5,1.1l-1.3,0.1h-1.5h-1.5l-1.3,0.3l-0.1,1.3l-0.2,1.3l-1.3,0.2l-1.5,0.1l-1.1,1l-1,1l-1.2,0.9l-1.4,0.1l-1.3,0.2l-0.2,1.3l-0.2,1.3l-1.3,0.2h-1.5h-1.5l-1.4,0.2l-0.2,1.2l-0.1,1.4l-1.3,0.3l-1.4,0.1l-1.2,0.8l-1,1l-1.1,1l-1.5,0.2l-1.4,0.1l-1.2,0.9l-1.1,1l-1.1,0.9l-1.4,0.1l-1.5,0.1l-1.1,0.9l-1.1,1.1l-1.1,0.9l-1.4,0.1h-1.5h-1.5l-1.4,0.2l-0.2,1.2l-0.1,1.4l-1.2,0.3h-1.5h-1.5h-1.5h-1.5l-1.4,0.1l-0.5,1.1l-0.1,1.3l-1.1,0.5h-1.4h-1.5h-1.5h-1.5l-1.5,0.1l-1.2,0.6l-1.1,1l-1.1,1l-1.4,0.4h-1.4h-1.5l-1.4,0.1l-0.6,0.9l-0.2,1.4l-0.8,0.6l-1.4,0.1h-1.5h-1.5h-1.5h-1.5h-1.5h-1.5h-1.5h-1.5h-1.5h-1.5h-1.5h-1.5l-1.1,0.5l-0.1,1.3l-0.4,1.2l-1.3,0.1h-1.5h-1.5h-1.5h-1.5h-1.5h-1.5h-1.5h-1.5h-1.5h-1.5h-1.5h-1.5l-1.5,0.1l-1.2,0.8l-1.1,1l-1.1,0.9l-1.4,0.2h-1.5h-1.5h-1.5h-1.5h-1.5h-1.5h-1.5h-1.5h-1.5h-1.5h-1.5h-1.5h-1.4l-0.6,0.2"/>
<path stroke="#0000ff" stroke-width="9.2" d="M1180.2,834.2h25.7"/>
<path stroke="#008080" stroke-width="9.3" d="M336,1345.6l1.3-0.6l1.5-0.3h1.5h1.5h1.5h1.5h1.5h1.5h1.5h1.5h1.5h1.5h1.5h1.5h1.5h1.5h1.5h1.5h1.5h1.5h1.5h1.5h1.5h1.5h1.4l1.2-0.4l0.1-1.4l0.3-1.2l1.4-0.1h1.5h1.5h1.5h1.5h1.5h1.5h1.5h1.5h1.5h1.5h1.5h1.5l1.4-0.1l0.4-1.1l0.1-1.4l1-0.5h1.5h1.5h1.5h1.5l1.4-0.1l0.6-0.8l0.2-1.4l0.8-0.7l1.4-0.1h1.5h1.5h1.5h1.5h1.5h1.5l1.3-0.4l1.1-1l1.1-1l1.3-0.5l1.5-0.1h1.5h1.5h1.5h1.5h1.5h1.4l1.1-0.5l0.1-1.3l0.4-1.2l1.4-0.1h1.5h1.5h1.5h1.5h1.5h1.5l1.2-0.2l0.2-1.4l0.2-1.3l1.3-0.2h1.5h1.5h1.5h1.5l1.4-0.1l1.2-0.7l1.1-1.1l1.1-0.9l1.4-0.2h1.5h1.5h1.5h1.5l1.4-0.1l0.4-1.1l0.1-1.4l1.1-0.5h1.4h1.5h1.5h1.5l1.4-0.1l0.6-0.9l0.2-1.3l0.8-0.7l1.4-0.1h1.5l1.5-0.1l0.8-0.6l0.2-1.4l0.6-0.8l1.4-0.1h1.5h1.5l1.3-0.4l1.1-1l1.1-1l1.3-0.6l1.4-0.1h1.5h1.5l1.3-0.5l1.1-0.9l1.1-1.1l1.3-0.5l1.5-0.1h1.5h1.4l1.4-0.5l1.1-0.9l1.1-1l1.3-0.5l1.4-0.1h1.5l1.5-0.1l0.9-0.5l0.1-1.4l0.6-1l1.3-0.1h1.5h1.5h1.5h1.5l1.2-0.4l0.1-1.3l0.3-1.3l1.3-0.1h1.5h1.5h1.5h1.5l1.4-0.2l0.2-1.2l0.1-1.4l1.3-0.3h1.4h1.5h1.5h1.5l1.4-0.1l0.5-1.1l0.1-1.3l1.1-0.5h1.4h1.5h1.5h1.5l1.4-0.1l0.6-0.9l0.2-1.3l0.8-0.7l1.4-0.1h1.5h1.5h1.5l1.5-0.1l0.8-0.6l0.2-1.4l0.5-0.9l1.4-0.1h1.5h1.5h1.5h1.5l1.1-0.5l0.1-1.3l0.5-1.1l1.3-0.1h1.5h1.5h1.5h1.5l1.3-0.3l0.1-1.3l0.2-1.3l1.3-0.2h1.5h1.5l1.5-0.1l1.1-0.9l1.1-1l1.1-1l1.4-0.1h1.5h1.5l1.5-0.1l1.1-0.9l1.1-1l1.1-1l1.4-0.1h1.5h1.5l1.4-0.1l0.3-1.2l0.1-1.4l1.2-0.3h1.5h1.5l1.5-0.1l1.1-0.8l1.1-1l1.1-1l1.4-0.2h1.5h1.5l1.4-0.1l0.4-1.2l0.1-1.3l1.1-0.5h1.4h1.5h1.5h1.5l1.4-0.1l0.7-0.8l0.2-1.3l0.8-0.7l1.4-0.1h1.5l1.4-0.1l0.8-0.7l0.2-1.4l0.6-0.8l1.4-0.1h1.5h1.5h1.5h1.5l1-0.5l0.1-1.4l0.5-1.1l1.3-0.1h1.5h1.5l1.2-0.4l0.1-1.3l0.4-1.2l1.3-0.1h1.5h1.5l1.3-0.2l0.2-1.3l0.2-1.4l1.2-0.2h1.5h1.5l1.4-0.1l0.3-1.2l0.1-1.4l1.2-0.4h1.4h1.5l1.5-0.1l1.2-0.7l1.1-1l1-1l1.4-0.3h1.5h1.5l1.4-0.1l0.5-1l0.2-1.3l1-0.5l1.4-0.1h1.5l1.5-0.1l1.2-0.6l1.1-1l1.1-1l1.3-0.4l1.5-0.1l1.2-0.6l1.1-1l1.1-1l1.3-0.4l1.4-0.1l0.5-1l0.2-1.3l1-0.5l1.4-0.1h1.5l1.4-0.1l0.6-0.9l0.2-1.3l0.8-0.7l1.4-0.1h1.5l1.4-0.1l0.9-0.6l0.2-1.4l0.5-0.9l1.4-0.1h1.5h1.5l1.4-0.4l1.1-0.9l1.1-1l1.2-0.6l1.5-0.1l1.3-0.5l1.1-1l1.1-1l1.2-0.5l1.5-0.2l0.8-0.6l0.2-1.4l0.5-0.9l1.4-0.1l1.4-0.4l1-1l1.1-1l1.2-0.6l1.4-0.2l1-0.5l0.2-1.3l0.5-1l1.4-0.1l1.3-0.4l1.1-1l1.1-1l1.2-0.6l1.4-0.2l1-0.5l0.1-1.3l0.5-1.1l1.4-0.1h1.5h1.5l1.1-0.4l0.1-1.4l0.4-1.1l1.4-0.1l1.4-0.2l1.1-1l1.1-1l1.1-0.8l1.5-0.1l1.2-0.3l0.1-1.4l0.3-1.3l1.3-0.1l1.4-0.2l1.2-0.9l1-1l1.2-0.8l1.5-0.1l1.2-0.3l0.1-1.4l0.2-1.2l1.4-0.2l1.2-0.2l0.2-1.4l0.2-1.3l1.3-0.2h1.5h1.5l1.4-0.1l0.3-1.2l0.1-1.4l1.2-0.3l1.4-0.1l0.3-1.2l0.1-1.4l1.1-0.4l1.5-0.1l1.2-0.7l1-1l1.1-1l1.4-0.3l1.4-0.1l0.5-1l0.1-1.4l1-0.5l1.4-0.2l1.2-0.6l1.1-1l1.1-1l1.4-0.3l1.4-0.1l0.5-1l0.1-1.4l0.9-0.5l1.5-0.1h1.5l1.4-0.1l0.6-0.9l0.2-1.3l0.8-0.7l1.4-0.1h1.5l1.4-0.1l0.8-0.7l0.2-1.3l0.7-0.8l1.4-0.1h1.5h1.5l1.3-0.4l1.1-1l1.1-1l1.2-0.6l1.4-0.2l0.9-0.6l0.2-1.4l0.5-0.9l1.4-0.1l1-0.5l0.1-1.4l0.4-1.1l1.4-0.1l1.2-0.3l0.1-1.4l0.3-1.2l1.4-0.1l1.2-0.3l0.1-1.4l0.3-1.3l1.3-0.1l1.3-0.2l0.2-1.3l0.1-1.4l1.3-0.2l1.4-0.1l0.3-1.2l0.1-1.4l1.2-0.3l1.4-0.1l0.3-1.2l0.1-1.4l1.1-0.4l1.4-0.1l0.5-1l0.1-1.4l1-0.5l1.4-0.2l1.2-0.6l1.1-1l1.1-0.9l1.4-0.4l1.4-0.1l0.5-1l0.1-1.4l0.9-0.5l1.5-0.2l1.2-0.6l1.1-1l1.1-1l1.3-0.4l1.5-0.1l1.2-0.7l1.1-1l1.1-1l1.3-0.3l1.4-0.1l0.5-1l0.2-1.3l1-0.5l1.4-0.1h1.5l1.4-0.1l0.6-0.9l0.2-1.3l0.8-0.7l1.4-0.1h1.5l1.5-0.1l0.8-0.6l0.2-1.4l0.5-0.9l1.4-0.2l0.9-0.5l0.2-1.4l0.5-0.9l1.4-0.1l1.4-0.4l1.1-1l1-1l1.3-0.6l1.4-0.2l0.9-0.5l0.1-1.4l0.6-1l1.3-0.1l1.1-0.5l0.1-1.3l0.3-1.4l1-1.1l1-1.1l0.7-1.2l0.1-1.4l0.5-1.1l1.3-0.1l1.1-0.5l0.1-1.3l0.4-1.2l1.3-0.1l1.3-0.3l0.1-1.3l0.3-1.3l1.4-0.1l1.2-0.2l0.2-1.4l0.2-1.3l1.3-0.2l1.3-0.1l0.3-1.3l0.1-1.3l1.2-0.4l1.4-0.1l1.2-0.8l1.1-1l1.1-1l1.4-0.1l1.4-0.1l0.3-1.3l0.1-1.3l1.2-0.4h1.4h1.5l1.4-0.1l0.5-1.1l0.1-1.3l1-0.6l1.3-0.1l0.6-0.9l0.2-1.3l0.9-0.6l1.4-0.1h1.5l1.5-0.1l0.6-0.8l0.2-1.4l0.7-0.7l1.4-0.2l0.8-0.6l0.2-1.4l0.5-0.9l1.4-0.1l1-0.6l0.1-1.3l0.5-1.1l1.3-0.1l1.4-0.3l1.1-1l1.1-1l1.3-0.6l1.4-0.1l1-0.5l0.1-1.4l0.5-1.1l1.3-0.1l1.1-0.5l0.1-1.3l0.4-1.2l1.3-0.1l1.3-0.3l0.1-1.3l0.3-1.3l1.3-0.1l1.3-0.2l0.2-1.3l0.2-1.4l1.2-0.2l1.5-0.1l1.1-0.9l1.1-1.1l1.1-0.9l1.4-0.1l1.4-0.2l0.2-1.3l0.2-1.3l1.3-0.2l1.3-0.1l0.3-1.3l0.1-1.3l1.2-0.4l1.4-0.1l1.2-0.8l1-1l1.1-1l1.5-0.2l1.3-0.1l0.4-1.2l0.1-1.3l1.2-0.4l1.3-0.1l0.4-1.2l0.1-1.3l1.1-0.5l1.3-0.1l0.6-1l0.1-1.4l0.9-0.5l1.4-0.2l0.6-0.8l0.2-1.4l0.7-0.7l1.4-0.2l0.8-0.7l0.2-1.3l0.7-0.8l1.3-0.2l0.8-0.7l0.2-1.3l0.6-0.9l1.3-0.1l1.4-0.4l1.1-1l1-1l1.1-1.1l1.1-1.1l1.1-1l1.3-0.4l1.4-0.2l0.7-0.7l0.2-1.4l0.6-0.8l1.4-0.2l0.9-0.5l0.1-1.4l0.5-1l1.4-0.1h1.5h1.5l1.1-0.5l0.1-1.3l0.5-1.1l1.3-0.1l1.2-0.4l0.1-1.3l0.3-1.3l1.3-0.1h1.5h1.5l1.3-0.2l0.2-1.3l0.2-1.4l1.2-0.2l1.4-0.1l0.3-1.3l0.1-1.3l1.2-0.4l1.3-0.1l0.5-1.1l0.1-1.3l1.1-0.5l1.3-0.1l0.5-1.1l0.1-1.3l1-0.6l1.3-0.1l0.6-0.9l0.2-1.3l0.8-0.7l1.4-0.2l0.7-0.7l0.2-1.4l0.7-0.7l1.4-0.2l0.7-0.7l0.2-1.4l0.6-0.8l1.4-0.2l0.9-0.5l0.1-1.4l0.5-1l1.4-0.1l1.4-0.3l1.1-1l1-1.1l1.3-0.6l1.4-0.1l1-0.5l0.1-1.4l0.5-1l1.4-0.1l1.1-0.4l0.1-1.4l0.4-1.2l1.3-0.1l1.4-0.2l1.1-1l1.1-1l1.1-0.8l1.5-0.1l1.2-0.3l0.1-1.4l0.3-1.2l1.4-0.1l1.3-0.3l0.1-1.3l0.2-1.3l1.3-0.2l1.3-0.2l0.2-1.3l0.1-1.4l1.3-0.2l1.4-0.1l0.3-1.2l0.1-1.4l1.2-0.3l1.5-0.1l1.1-0.8l1.1-1l1.1-1l1.4-0.2l1.4-0.1l0.3-1.2l0.1-1.4l1.1-0.4l1.4-0.1l0.5-1l0.1-1.4l0.9-0.5l1.4-0.2l0.6-0.9l0.2-1.3l0.9-0.6l1.3-0.2l0.6-0.9l0.2-1.3l0.8-0.7l1.3-0.2l0.8-0.7l0.1-1.4l0.5-1.3l1-1.1l1-1l0.5-1.3l0.2-1.4l0.7-0.8l1.3-0.2l0.8-0.7l0.2-1.3l0.6-0.9l1.3-0.2l1-0.5l0.2-1.3l0.5-1l1.4-0.1l1.3-0.4l1.1-1l1.1-1l1-1.1l1.1-1.1l1-1l0.5-1.3l0.2-1.4l0.6-0.9l1.4-0.1l1.3-0.4l1.1-1l1.1-1l1.1-1.1l1-1.1l1.1-1l1-1.1l1.1-1.1l1-1l1.1-1.1l1.1-1l1.1-1l1.4-0.3l1.3-0.1l0.5-1.1l0.1-1.3l1-0.6l1.4-0.1l1.3-0.6l1-1l1.1-1l1.4-0.4l1.4-0.1l0.5-1l0.1-1.4l1-0.5l1.4-0.1l0.5-0.9l0.2-1.4l0.8-0.6l1.4-0.2l1.3-0.5l1.1-1l1.1-1l1.3-0.5l1.4-0.1l0.6-0.9l0.2-1.3l0.8-0.7l1.3-0.2l0.8-0.7l0.2-1.3l0.7-0.8l1.3-0.2l0.9-0.6l0.2-1.3l0.5-1l1.3-0.2l1-0.5l0.1-1.3l0.5-1.1l1.4-0.1l1.1-0.4l0.1-1.4v-1.5v-1.5l0.3-1.2l1.4-0.1l1.2-0.2l0.2-1.4l0.2-1.3l1.3-0.2l1.3-0.1l0.3-1.3l0.1-1.3l1.3-0.3l1.3-0.1l0.3-1.3l0.1-1.4l0.8-1.2l1.1-1.1l1.1-0.9l1.4-0.2l1.4-0.1l0.3-1.2l0.1-1.4l1.1-0.4l1.4-0.1l0.4-1.1l0.1-1.4l1.1-0.4l1.4-0.1l0.5-1l0.1-1.4l1-0.5l1.3-0.2l0.6-0.9l0.2-1.3l0.8-0.7l1.3-0.2l0.7-0.8l0.2-1.3l0.8-0.7l1.3-0.2l0.8-0.7l0.2-1.3l0.6-0.9l1.3-0.2l1-0.5l0.1-1.4l0.4-1.4l0.9-1l1.1-1.1l1.3-0.5l1.4-0.2l0.9-0.6l0.1-1.3l0.6-1l1.3-0.1l1.4-0.3l1.1-1l1-1.1l0.7-1.2l0.1-1.4l0.5-1.1l1.4-0.1l1.3-0.3l1.1-1l1.1-1l1.1-1.1l1.1-1.1l1-1l0.5-1.3l0.2-1.4l0.6-0.9l1.4-0.1l1.3-0.5l1.1-0.9l1.1-1l1.3-0.5l1.4-0.2l0.8-0.7l0.2-1.3l0.6-0.9l1.3-0.1l1.4-0.5l1.1-1l1-1l1.3-0.5l1.4-0.2l0.9-0.6l0.1-1.4l0.5-1.3l1-1.1l1-1.1l0.5-1.2l0.2-1.4l0.6-0.9l1.3-0.2l0.9-0.6l0.2-1.3l0.5-1l1.4-0.1h1.5h1.5l1.1-0.4l0.1-1.4l0.4-1.1l1.4-0.1l1.1-0.4l0.1-1.4l0.3-1.2l1.4-0.1l1.3-0.2l0.1-1.4l0.2-1.3l1.3-0.2l1.3-0.1l0.3-1.3l0.1-1.3l1.3-0.3l1.3-0.1l0.3-1.3v-1.5v-1.5l0.1-1.4l1.1-0.4l1.4-0.1l0.5-1v-1.5v-1.5l0.1-1.4l1-0.5l1.3-0.2l0.6-0.9l0.2-1.3l0.8-0.7l1.3-0.2l0.8-0.7l0.2-1.3l0.6-0.9l1.3-0.2l0.9-0.6l0.2-1.3l0.6-0.9l1.3-0.2l1-0.5l0.1-1.4l0.5-1l1.4-0.1l1.1-0.4l0.1-1.4l0.3-1.2l1.4-0.1l1.2-0.3l0.1-1.4l0.3-1.2l1.4-0.1l1.3-0.2l0.1-1.4l0.2-1.3l1.3-0.2l1.3-0.1l0.3-1.3l0.1-1.4l1.2-0.3l1.4-0.1l0.4-1.1l0.1-1.5l0.8-1.2l1-1l0.9-1.2l0.2-1.4l0.1-1.3l1.2-0.4l1.4-0.1l0.4-1.1l0.1-1.4l1-0.5l1.5-0.1l1.2-0.6l1.1-1.1l1.1-0.9l1.3-0.3l1.4-0.1l0.5-1.1l0.1-1.3l1-0.6l1.4-0.1l1.2-0.6l1.1-1.1l1-1.1l0.3-1.3l0.1-1.4l1.1-0.5l1.3-0.1l0.5-1l0.2-1.4l0.6-1.2l1-1.1l1-1.1l0.4-1.4l0.1-1.3l1-0.6l1.3-0.1l0.6-1l0.1-1.3l0.9-0.6l1.4-0.2l0.6-0.8l0.2-1.4l0.7-0.7l1.4-0.2l0.8-0.6l0.2-1.4l0.6-0.8l1.4-0.2l0.9-0.5l0.1-1.4l0.6-1l1.3-0.1l1-0.6l0.1-1.3l0.5-1.1l1.3-0.1l1.2-0.4l0.1-1.3l0.3-1.3l1.3-0.1l1.5-0.1l1.1-1l1.1-1l1.1-0.8l1.5-0.1l1.2-0.3l0.1-1.4l0.2-1.3l1.4-0.1l1.3-0.2l0.2-1.3l0.1-1.4l1.3-0.2l1.4-0.1l0.2-1.3l0.1-1.4l1.3-0.2l1.4-0.1l0.3-1.2l0.1-1.4l1.1-0.4l1.4-0.1l0.5-1l0.1-1.4l1-0.5l1.3-0.2l0.6-0.9l0.2-1.3l0.8-0.7l1.3-0.2l0.7-0.8l0.2-1.4l0.5-1.2l1-1.1l1-1.1l0.5-1.3l0.1-1.4l0.8-0.7l1.3-0.2l0.8-0.7l0.2-1.3l0.7-0.8l1.3-0.2l0.8-0.7l0.2-1.3l0.6-0.9l1.4-0.2l0.9-0.5l0.1-1.4l0.5-1l1.4-0.1l1.1-0.4l0.1-1.4l0.4-1.1l1.4-0.1l1.4-0.3l1.1-1l1-1.1l0.7-1.2l0.1-1.4l0.5-1.1l1.3-0.1l1.2-0.4l0.1-1.3l0.4-1.2l1.3-0.1l1.3-0.3l0.1-1.3l0.2-1.3l1.3-0.2l1.3-0.2l0.2-1.3l0.1-1.5l0.9-1.1l1.1-1.1l0.9-1.1l0.1-1.4l0.2-1.3l1.3-0.2l1.4-0.2l0.2-1.3l0.1-1.3l1.3-0.3l1.3-0.1l0.3-1.3l0.1-1.3l1.2-0.4l1.3-0.1l0.5-1.1l0.1-1.3l1.1-0.5l1.3-0.1l0.6-1l0.1-1.3l0.9-0.6l1.3-0.2l0.6-0.9l0.2-1.4l0.8-0.6l1.4-0.2l0.7-0.7l0.2-1.4l0.6-0.8l1.4-0.2l0.9-0.5l0.1-1.4l0.5-1.4l0.9-1l1.1-1.1l0.5-1.3l0.2-1.4l0.6-0.9l1.3-0.2l0.9-0.6l0.1-1.3l0.5-1.4l1-1.1l1-1l0.5-1.3l0.2-1.4l0.6-0.9l1.3-0.2l1-0.5l0.2-1.3l0.5-1l1.3-0.2l1-0.5l0.1-1.3l0.5-1.1l1.3-0.1l1.2-0.4l0.1-1.4l0.3-1.2l1.4-0.1l1.2-0.2l0.2-1.4l0.1-1.4l0.9-1.1l1.1-1.1l0.8-1.2l0.1-1.4l0.3-1.3l1.3-0.1l1.3-0.2l0.2-1.3l0.2-1.4l1.2-0.2l1.4-0.1l0.3-1.3v-1.4v-1.5l0.1-1.4l1.2-0.4l1.3-0.1l0.5-1.1l0.1-1.3l1-0.6l1.3-0.1l0.6-1l0.1-1.3l1-0.6l1.3-0.1l0.6-0.9l0.1-1.4v-1.5l0.1-1.5l0.7-0.7l1.4-0.2l0.8-0.6l0.2-1.4l0.5-0.9l1.4-0.2l0.9-0.5l0.2-1.4l0.5-0.9l1.4-0.1l1.4-0.4l1.1-1l1-1l1.3-0.6l1.4-0.2l0.9-0.6l0.1-1.3l0.6-1l1.3-0.1l1.1-0.5l0.1-1.3l0.5-1.1l1.3-0.1l1.4-0.3l1.1-0.9l1.1-1.1l0.7-1.2l0.1-1.5v-1.5v-1.5v-1.5v-1.5v-1.5v-1.5l0.2-1.2l1.4-0.2l1.2-0.2l0.2-1.4l0.1-1.4l1-1.1l1-1.1l0.9-1.1l0.1-1.4l0.2-1.3l1.4-0.2l1.3-0.2l0.2-1.3l0.1-1.3l1.3-0.3l1.3-0.1l0.3-1.3l0.1-1.3l1.3-0.3h1.5h1.5l1.3-0.1l0.5-1.1l0.1-1.3l1-0.6l1.3-0.1l0.6-1l0.1-1.4l0.9-0.5l1.4-0.2l0.6-0.8l0.2-1.4l0.8-0.6l1.5-0.1h1.5l1.4-0.1l0.8-0.6l0.1-1.4l0.5-1.4l0.9-1.1l1-1.1l0.5-1.3l0.1-1.4v-1.5l0.1-1.5l0.6-0.8l1.4-0.2l0.9-0.5l0.1-1.4l0.6-1l1.3-0.1l1.1-0.5l0.1-1.3l0.3-1.4l0.9-1.1l1.1-1.1l0.6-1.2l0.1-1.5l0.5-1l1.4-0.1l1.1-0.4l0.1-1.4v-1.5v-1.5l0.2-1.4l1-1.1l1-1.1l0.8-1.2l0.1-1.4l0.4-1.2l1.3-0.1l1.2-0.4l0.1-1.3l0.3-1.3l1.3-0.1l1.3-0.2l0.2-1.3l0.2-1.3l1.3-0.2l1.4-0.2l0.2-1.2v-1.5v-1.5l0.1-1.4l1.1-0.4l1.4-0.1l0.5-1.1l0.1-1.3l1.1-0.5l1.3-0.1l0.5-1.1l0.1-1.4l0.7-1.2l1-1.1l1.1-1l1.3-0.3l1.4-0.1l0.5-1l0.2-1.4l0.7-1.2l1-1.1l1-1.1l1.1-1.1l1-1l1-1.1l0.2-1.4l0.1-1.4l1.2-0.4l1.3-0.1l0.5-1.1l0.1-1.3l1.1-0.5l1.3-0.1l0.5-1.1l0.1-1.3l1-0.6l1.3-0.1l0.6-0.9l0.2-1.3l0.8-0.7l1.4-0.2l0.7-0.7l0.2-1.4l0.5-1.3l1-1.1l1-1.1l0.5-1.3l0.1-1.4l0.5-1.3l1-1.1l1.1-1.1l1-1l1.1-1.1l1.1-0.9l1.3-0.4l1.4-0.1l0.5-1l0.2-1.3l0.9-0.6l1.3-0.2l0.6-0.9l0.1-1.4v-1.5v-1.5v-1.5l0.1-1.5l0.5-1.3l1-1.1l1-1.1l0.5-1.3l0.1-1.3l0.8-0.7l1.4-0.2l0.7-0.7l0.2-1.4l0.6-0.8l1.4-0.2l0.9-0.5l0.1-1.4l0.6-1l1.3-0.1l1-0.6l0.1-1.3l0.6-1l1.3-0.1l1.1-0.5l0.1-1.3l0.3-1.4l0.9-1.1l1.1-1.1l0.7-1.2l0.1-1.4l0.4-1.2l1.3-0.1l1.2-0.4l0.1-1.3l0.4-1.2l1.3-0.1l1.3-0.3l0.1-1.4v-1.5v-1.5l0.2-1.3l1.3-0.2l1.3-0.1l0.3-1.3l0.1-1.3l1.3-0.3l1.3-0.1l0.3-1.3l0.1-1.3l1.2-0.4l1.4-0.1l1.2-0.7l1.1-1.1l0.9-1.1l0.3-1.4l0.1-1.3l1.2-0.4l1.3-0.1l0.4-1.2v-1.5v-1.5l0.1-1.4l0.7-1.1l0.7-0.5M1677.5,323.9l-0.9,1.1l-0.4,1.4v1.5v1.5l-0.1,1.4l-0.7,0.7l-1.4,0.2l-0.8,0.6l-0.1,1.5v1.5v1.4l-0.5,1.4l-0.9,1.1l-1,1.1l-0.5,1.3l-0.1,1.4v1.5l-0.1,1.5l-0.6,0.8l-1.4,0.2l-0.9,0.5l-0.1,1.4v1.5v1.5v1.5v1.5v1.5v1.5l-0.3,1.4l-0.9,1.1l-1.1,1.1l-0.7,1.2l-0.1,1.5v1.5v1.5v1.5v1.4l-0.3,1.3l-1.3,0.1l-1.3,0.3l-0.1,1.4v1.5v1.5l-0.2,1.2l-1.4,0.2l-1.3,0.2l-0.2,1.3v1.5v1.5v1.5v1.5v1.5v1.5v1.5v1.5v1.5v1.5l-0.1,1.4l-0.7,1.2l-1,1.1l-1,1.1l-0.3,1.4v1.5v1.5l-0.1,1.4l-1,0.5l-1.4,0.1l-0.5,1v1.5v1.5l-0.1,1.4l-0.8,0.6l-1.4,0.2l-0.7,0.8l-0.1,1.4v1.5v1.5v1.5l-0.1,1.4l-0.6,0.9l-1.3,0.2l-1,0.5l-0.1,1.4v1.5v1.4l-0.5,1.1l-1.3,0.1l-1.2,0.4l-0.1,1.4v1.5v1.5v1.5v1.5l-0.2,1.4l-0.9,1.1l-1,1.1l-0.8,1.2l-0.1,1.5v1.5v1.5v1.5v1.5v1.5v1.5l-0.2,1.3l-1.3,0.2l-1.3,0.1l-0.3,1.3l-0.1,1.4l-0.8,1.2l-1.1,1l-1.1,1.1l-1,1l-1,1.1l-0.9,1.2l-0.1,1.4v1.5v1.5v1.5v1.5v1.5v1.5v1.5v1.5v1.5v1.5v1.5v1.5l-0.1,1.4l-1.1,0.5l-1.3,0.1l-0.6,1v1.4v1.5l-0.1,1.4l-0.9,0.6l-1.3,0.2l-0.7,0.8l-0.1,1.4v1.5l-0.1,1.5l-0.6,0.8l-1.4,0.2l-0.8,0.6l-0.1,1.4v1.5v1.5v1.5v1.5l-0.5,1l-1.4,0.1l-1.1,0.5l-0.1,1.3v1.5v1.5l-0.3,1.4l-0.9,1.1l-1.1,1.1l-0.7,1.2l-0.1,1.5v1.5v1.4l-0.3,1.4l-0.9,1.2l-1,1l-0.7,1.3l-0.1,1.4v1.5v1.5v1.5v1.5l-0.4,1.2l-1.3,0.1l-1.3,0.3l-0.1,1.3v1.5v1.5l-0.1,1.5l-1,1.1l-1,1.1l-0.9,1.1l-0.1,1.5v1.5v1.5l-0.2,1.3l-1.3,0.2l-1.3,0.1l-0.3,1.3v1.5v1.5l-0.1,1.3l-1.2,0.4l-1.3,0.1l-0.4,1.2l-0.1,1.3l-1.1,0.5l-1.3,0.1l-0.6,1v1.5v1.5l-0.1,1.4l-0.9,0.5l-1.4,0.2l-0.6,0.8l-0.1,1.5v1.5v1.5v1.5v1.4l-0.5,1.3l-1,1.1l-1,1.2l-0.5,1.3v1.4v1.5l-0.1,1.5l-0.5,1.3l-1,1.1l-1,1.1l-0.5,1.3v1.5v1.5v1.5v1.5l-0.1,1.4l-0.6,0.8l-1.4,0.2l-0.9,0.6l-0.1,1.4v1.5v1.5v1.5v1.4l-0.5,1.1l-1.3,0.1l-1.2,0.4l-0.1,1.4v1.5v1.5v1.5v1.4l-0.2,1.3l-1.3,0.2l-1.3,0.2l-0.2,1.4v1.5v1.5l-0.1,1.4l-0.9,1.1l-1,1.1l-1,1.1l-0.1,1.4v1.5v1.5l-0.1,1.5l-0.9,1.1l-1,1.1l-1,1.1l-0.1,1.5v1.5v1.5v1.5v1.5v1.5v1.5l-0.1,1.3l-1.2,0.4l-1.3,0.1l-0.4,1.2v1.5v1.5l-0.1,1.3l-1,0.6l-1.4,0.1l-0.5,0.9l-0.2,1.4l-0.6,1.3l-1,1l-1,1.1l-0.4,1.4v1.5v1.5l-0.1,1.4l-0.9,0.5l-1.4,0.2l-0.5,0.9l-0.1,1.5v1.5l-0.1,1.4l-0.8,0.7l-1.3,0.2l-0.8,0.7l-0.1,1.4v1.5l-0.1,1.4l-0.6,0.9l-1.3,0.2l-1,0.5l-0.1,1.4v1.5v1.4l-0.4,1.2l-1.4,0.1l-1.2,0.3l-0.1,1.4l-0.2,1.4l-1,1.1l-1,1.1l-0.7,1.2l-0.1,1.4l-0.4,1.2l-1.3,0.1l-1.3,0.3l-0.1,1.4l-0.2,1.4l-0.9,1.1l-1.1,1l-0.8,1.2l-0.1,1.4l-0.3,1.3l-1.3,0.1l-1.3,0.3l-0.1,1.3v1.5v1.5v1.5v1.5v1.5v1.5l-0.1,1.4l-1.3,0.3l-1.3,0.1l-0.4,1.2v1.4v1.5v1.5v1.5v1.5v1.5v1.5v1.5l-0.1,1.4l-0.9,0.6l-1.4,0.2l-0.6,0.8l-0.1,1.4v1.5v1.5l-0.5,1.3l-1,1.1l-1,1.1l-0.5,1.3l-0.1,1.4l-0.8,0.7l-1.3,0.2l-0.8,0.7l-0.2,1.3l-0.6,0.9l-1.3,0.2l-1,0.5l-0.2,1.3l-0.5,1l-1.4,0.1l-1,0.5l-0.1,1.4v1.5v1.5l-0.2,1.4l-1,1.1l-1,1.1l-0.7,1.2l-0.1,1.5v1.5v1.5v1.5v1.5v1.5v1.4l-0.3,1.3l-1.4,0.1l-1.2,0.2l-0.2,1.4v1.5v1.5v1.5v1.5l-0.1,1.3l-1.3,0.3l-1.3,0.1l-0.4,1.2v1.5v1.5l-0.1,1.3l-1,0.6l-1.3,0.1l-0.6,1l-0.1,1.4l-0.7,1.2l-1,1.1l-1,1.1l-0.3,1.4l-0.1,1.4l-1,0.5l-1.4,0.1l-0.5,0.9l-0.1,1.5v1.5l-0.1,1.4l-0.6,1.3l-1,1.1l-0.9,1.1l-0.4,1.4v1.5v1.5v1.5v1.5l-0.1,1.4l-0.8,0.6l-1.4,0.2l-0.7,0.7l-0.1,1.5v1.5l-0.1,1.4l-0.7,0.8l-1.3,0.2l-0.9,0.6l-0.1,1.4v1.5v1.4l-0.5,1.1l-1.3,0.1l-1.2,0.4l-0.1,1.4v1.5v1.4l-0.3,1.3l-1.3,0.1l-1.3,0.3l-0.1,1.4v1.5v1.5l-0.2,1.3l-1.3,0.2l-1.3,0.1l-0.3,1.3v1.5v1.5l-0.1,1.3l-1.2,0.4l-1.3,0.1l-0.5,1.1v1.5v1.5l-0.1,1.4l-0.7,1.2l-1,1.1l-0.9,1.2l-0.3,1.4l-0.1,1.3l-1.1,0.5l-1.3,0.1l-0.6,1v1.4v1.5l-0.1,1.4l-0.9,0.6l-1.4,0.2l-0.6,0.8l-0.2,1.4l-0.5,1.3l-1,1.1l-0.9,1.1l-0.5,1.4l-0.1,1.3l-0.9,0.6l-1.3,0.2l-0.7,0.8l-0.1,1.4v1.5l-0.1,1.5l-0.6,0.8l-1.4,0.2l-0.9,0.5l-0.1,1.4l-0.5,1.3l-0.9,1.1l-1.1,1.1l-0.5,1.3l-0.2,1.4l-0.6,0.9l-1.3,0.2l-0.9,0.6l-0.1,1.3l-0.6,1l-1.3,0.1l-1.1,0.5l-0.1,1.3l-0.5,1.1l-1.3,0.1l-1.2,0.4l-0.1,1.4v1.5v1.5v1.5v1.5v1.5v1.5v1.5v1.5v1.5v1.5v1.5v1.5l-0.1,1.3l-1.2,0.4l-1.3,0.1l-0.4,1.2v1.5v1.5l-0.1,1.3l-1,0.6l-1.3,0.1l-0.6,0.9l-0.1,1.5v1.5l-0.1,1.4l-0.8,0.6l-1.4,0.2l-0.7,0.7l-0.1,1.4l-0.5,1.3l-1,1.1l-1,1.1l-0.5,1.3l-0.1,1.4l-0.8,0.7l-1.3,0.2l-0.8,0.7l-0.2,1.3l-0.6,0.9l-1.4,0.2l-0.9,0.5l-0.2,1.4l-0.5,0.9l-1.4,0.1l-1,0.5l-0.1,1.4l-0.3,1.4l-1,1.1l-1,1.1l-0.6,1.2l-0.1,1.5l-0.5,1l-1.4,0.1l-1.1,0.4l-0.1,1.4v1.5v1.5v1.5v1.5l-0.2,1.3l-1.4,0.1l-1.3,0.2l-0.2,1.3v1.5v1.5v1.5v1.5l-0.1,1.4l-1.2,0.3l-1.4,0.1l-0.3,1.2v1.5v1.5l-0.1,1.4l-1.1,0.4l-1.4,0.1l-0.5,1l-0.1,1.4l-0.9,0.5l-1.4,0.2l-0.6,0.9l-0.1,1.4v1.5l-0.1,1.4l-0.8,0.7l-1.3,0.2l-0.7,0.8l-0.1,1.4v1.5v1.5v1.5v1.5l-0.5,1.3l-1,1.1l-1,1.1l-0.5,1.2l-0.2,1.4l-0.6,0.9l-1.4,0.2l-0.9,0.5l-0.1,1.4v1.5v1.5l-0.5,1l-1.4,0.1l-1.1,0.4l-0.1,1.4l-0.3,1.2l-1.4,0.1l-1.2,0.3l-0.1,1.4l-0.3,1.3l-1.3,0.1l-1.3,0.2l-0.2,1.3l-0.2,1.3l-1.3,0.2l-1.4,0.2l-0.2,1.2l-0.1,1.4l-1.2,0.3l-1.4,0.1l-0.3,1.2l-0.1,1.5l-0.8,1.1l-1,1.1l-1,1.1l-0.2,1.4l-0.1,1.4l-1.2,0.3l-1.4,0.1l-0.4,1.1v1.5v1.5v1.5v1.5v1.5v1.5v1.5v1.5v1.5v1.5v1.5v1.5l-0.1,1.4l-0.7,0.8l-1.3,0.2l-0.8,0.7l-0.1,1.4v1.5l-0.1,1.4l-0.6,0.9l-1.4,0.1h-1.5h-1.5l-1,0.5l-0.1,1.4l-0.4,1.1l-1.4,0.1l-1.4,0.2l-1.1,1l-1,1.1l-1.2,0.7l-1.5,0.1l-1.1,0.4l-0.1,1.4l-0.3,1.4l-1,1.1l-1,1l-0.7,1.2l-0.1,1.5l-0.3,1.4l-0.9,1.1l-1.1,1.1l-0.6,1.2l-0.1,1.5v1.5v1.4l-0.5,1.1l-1.4,0.1l-1.1,0.4l-0.1,1.4v1.5v1.5v1.5v1.5l-0.2,1.2l-1.4,0.2l-1.3,0.2l-0.2,1.3l-0.1,1.3l-1.3,0.3l-1.3,0.1l-0.3,1.3l-0.1,1.3l-1.3,0.3l-1.3,0.1l-0.4,1.2l-0.1,1.4l-1.1,0.4l-1.4,0.1l-0.5,1l-0.1,1.4l-0.9,0.5l-1.4,0.2l-0.6,0.8l-0.2,1.5l-0.5,1.2l-1,1.1l-1,1.1l-0.4,1.4v1.4v1.5l-0.1,1.5l-0.8,0.6l-1.4,0.2l-0.7,0.7l-0.2,1.4l-0.7,0.7l-1.4,0.2l-0.8,0.6l-0.2,1.4l-0.5,0.9l-1.4,0.2l-0.9,0.5l-0.1,1.4l-0.6,1l-1.3,0.1l-1.1,0.5l-0.1,1.3v1.5v1.5v1.5v1.5l-0.3,1.3l-1.3,0.1l-1.3,0.2l-0.2,1.3v1.5v1.5l-0.2,1.4l-1.2,0.2l-1.4,0.2l-0.2,1.2l-0.1,1.4l-1.3,0.3h-1.4h-1.5l-1.4,0.1l-0.5,1.1l-0.1,1.3l-1,0.6l-1.3,0.1l-0.6,1l-0.1,1.3l-1,0.6l-1.3,0.1l-0.6,0.9l-0.1,1.4v1.5l-0.1,1.5l-0.7,0.7l-1.4,0.2l-0.8,0.6l-0.1,1.4l-0.5,1.3l-1,1.1l-1,1.1l-0.5,1.3l-0.1,1.5v1.5l-0.1,1.4l-0.6,0.9l-1.3,0.2l-0.9,0.6l-0.2,1.3l-0.6,0.9l-1.3,0.1l-1,0.6l-0.1,1.3l-0.5,1.1l-1.3,0.1l-1.2,0.4l-0.1,1.3l-0.3,1.3l-1.3,0.1l-1.3,0.3l-0.1,1.3l-0.3,1.3l-1.4,0.1l-1.2,0.2l-0.2,1.4l-0.2,1.3l-1.3,0.2l-1.3,0.1l-0.3,1.3v1.5v1.5l-0.1,1.4l-0.8,1.2l-1,1l-1,1.1l-0.2,1.4l-0.1,1.4l-1.2,0.4l-1.3,0.1l-0.4,1.2l-0.1,1.3l-1.1,0.5l-1.3,0.1l-0.6,1l-0.1,1.3l-1,0.6l-1.3,0.1l-0.6,0.9l-0.2,1.4l-0.8,0.6l-1.4,0.2l-0.6,0.8l-0.2,1.4l-0.7,0.7l-1.4,0.2l-0.8,0.6l-0.2,1.4l-0.6,0.8l-1.4,0.2l-0.9,0.5l-0.1,1.4l-0.6,1l-1.3,0.1l-1,0.6l-0.1,1.3l-0.5,1.1l-1.3,0.1l-1.2,0.4l-0.1,1.3l-0.4,1.2l-1.3,0.1l-1.3,0.3l-0.1,1.3l-0.1,1.5l-1,1.1l-1,1.1l-0.9,1.1l-0.1,1.5l-0.2,1.2l-1.4,0.2l-1.2,0.2l-0.2,1.4l-0.2,1.2l-1.4,0.2l-1.3,0.2l-0.2,1.3l-0.1,1.3l-1.3,0.3l-1.3,0.1l-0.4,1.2l-0.1,1.3l-1.1,0.5l-1.3,0.1l-0.5,1.1l-0.1,1.3l-1.1,0.5l-1.3,0.1l-0.6,1l-0.1,1.4l-0.9,0.5l-1.4,0.2l-0.6,0.8l-0.2,1.4l-0.7,0.7l-1.4,0.2l-0.7,0.7l-0.2,1.4l-0.7,0.7l-1.4,0.2l-0.8,0.6l-0.1,1.4l-0.5,1.4l-1,1.1l-1,1l-0.5,1.3l-0.2,1.4l-0.6,0.9l-1.3,0.2l-1,0.5l-0.2,1.3l-0.5,1l-1.3,0.2l-1,0.5l-0.1,1.3l-0.5,1.1l-1.3,0.1l-1.2,0.4l-0.1,1.4l-0.3,1.2l-1.4,0.1h-1.5h-1.5l-1.2,0.2l-0.2,1.4l-0.2,1.2l-1.4,0.2l-1.4,0.1l-1.1,0.9l-1.1,1.1l-1.1,0.9l-1.5,0.1l-1.2,0.2l-0.2,1.4l-0.2,1.3l-1.3,0.2l-1.3,0.1l-0.3,1.3l-0.1,1.3l-1.3,0.3l-1.4,0.1l-0.3,1.2l-0.1,1.5l-0.8,1.1l-1,1.1l-1,1.1l-1.1,1.1l-1,1l-1.1,1l-1.5,0.1l-1.3,0.1l-0.3,1.3l-0.1,1.3l-1.3,0.3l-1.4,0.1l-0.3,1.2l-0.1,1.4l-1.1,0.4l-1.4,0.1l-0.4,1.1l-0.1,1.4l-1,0.5h-1.5h-1.5l-1.4,0.1l-0.6,0.9l-0.2,1.3l-0.9,0.6l-1.4,0.1h-1.5l-1.4,0.1l-0.7,0.8l-0.2,1.3l-0.7,0.8l-1.4,0.1h-1.5l-1.4,0.1l-1,0.5l-0.1,1.4l-0.5,1l-1.4,0.1l-1,0.5l-0.1,1.4l-0.4,1.1l-1.4,0.1l-1.4,0.2l-1.1,1l-1.1,1l-1.2,0.7l-1.4,0.1l-1.1,0.5l-0.1,1.3l-0.4,1.2l-1.4,0.1l-1.4,0.2l-1.1,1l-1.1,1l-1.1,0.8l-1.5,0.1l-1.1,0.4l-0.1,1.4l-0.4,1.1l-1.4,0.1l-1.4,0.2l-1.1,1l-1.1,1l-1.1,0.8l-1.5,0.1h-1.5h-1.5l-1.4,0.2l-1.1,1l-1.1,1l-1.2,0.8l-1.4,0.1h-1.5h-1.5h-1.5h-1.5l-1.3,0.3l-0.1,1.3l-0.3,1.3l-1.3,0.1h-1.5h-1.5h-1.5h-1.5l-1.5,0.1l-1.1,0.9l-1.1,1.1l-1.1,0.9l-1.4,0.1h-1.5h-1.5l-1.4,0.2l-0.2,1.2l-0.1,1.4l-1.3,0.3h-1.4h-1.5l-1.4,0.1l-0.5,1.1l-0.1,1.3l-1.1,0.5h-1.4h-1.5l-1.4,0.1l-0.6,1l-0.1,1.3l-0.9,0.6l-1.4,0.1h-1.5l-1.5,0.1l-0.6,0.8l-0.2,1.4l-0.7,0.7l-1.4,0.1h-1.5h-1.5h-1.5h-1.5l-1.4,0.4l-1.1,1l-1,1l-1.3,0.6l-1.4,0.1h-1.5h-1.5l-1,0.4"/>
<path stroke="#008080" stroke-width="9.2" d="M1644.1,323.9h33.4M1050,1345.2l-20,2.7h-694"/>
<path stroke="#ff00ff" stroke-width="9.3" d="M336,1345.6l1.3-0.6l1.5-0.3h1.5h1.5h1.5h1.5h1.5h1.5h1.5h1.5h1.5h1.5h1.5h1.5h1.5h1.5h1.5h1.5h1.5h1.5h1.5h1.5h1.5h1.5h1.5h1.5h1.5h1.5h1.5h1.5h1.5h1.5h1.5h1.5h1.5l1.4-0.1l1.2-0.9l1-1l1.1-1l1.5-0.1h1.5h1.5h1.5h1.5h1.5h1.5h1.5h1.5h1.5h1.5l1.4-0.1l0.5-1l0.1-1.4l0.9-0.5l1.5-0.1h1.5h1.5h1.5h1.5h1.5h1.5h1.5h1.5h1.5l1.4-0.1l0.9-0.6l0.2-1.3l0.5-1l1.4-0.1h1.5h1.5h1.5h1.5l1.1-0.4l0.1-1.4l0.4-1.1l1.4-0.1h1.5h1.5h1.5h1.5h1.5h1.5l1.3-0.2l0.2-1.3l0.1-1.3l1.3-0.3h1.5h1.5h1.5h1.5h1.5h1.5l1.4-0.1l0.5-1l0.1-1.4l0.9-0.5l1.5-0.1h1.5h1.5h1.5l1.5-0.1l1.2-0.5l1.1-1l1.1-1l1.4-0.4h1.4h1.5l1.5-0.1l0.6-0.8l0.2-1.4l0.7-0.7l1.4-0.1h1.5l1.5-0.1l0.8-0.6l0.2-1.4l0.6-0.9l1.3-0.1h1.5h1.5l1.1-0.5l0.1-1.3l0.5-1.1l1.3-0.1h1.5h1.5l1.4-0.3l1.1-0.9l1.1-1.1l1.2-0.7l1.5-0.1h1.5h1.5l1.3-0.3l1.1-0.9l1.1-1.1l1.2-0.7l1.5-0.1h1.5h1.5h1.5h1.5l1.2-0.3l0.1-1.4l0.3-1.2l1.4-0.1h1.5h1.5h1.5h1.5l1.4-0.1l1.1-0.9l1.1-1.1l1.1-0.9l1.5-0.1h1.5h1.5h1.5h1.5l1.3-0.1l0.3-1.3l0.1-1.4l1.2-0.3h1.5h1.5h1.5h1.5l1.5-0.1l1.2-0.7l1-1l1.1-1l1.4-0.3h1.5h1.5h1.5h1.5l1.4-0.1l0.5-1l0.2-1.3l1-0.5l1.4-0.1h1.5h1.5h1.5l1.4-0.1l0.7-0.8l0.2-1.3l0.7-0.8l1.4-0.1h1.5h1.5h1.5h1.5h1.5h1.5l1-0.5l0.1-1.4l0.4-1.1l1.4-0.1h1.5h1.5h1.5h1.5l1.4-0.2l1.1-0.9l1.1-1.1l1.2-0.7l1.5-0.1h1.5h1.5h1.5h1.5l1.2-0.2l0.2-1.4l0.2-1.3l1.3-0.2h1.5h1.5l1.4-0.1l1.2-0.9l1-1l1.1-1l1.5-0.1h1.5h1.5l1.3-0.1l0.3-1.3l0.1-1.3l1.2-0.4h1.5h1.5l1.5-0.1l1.2-0.7l1-1l1.1-1l1.4-0.2h1.5h1.5h1.5h1.5l1.4-0.1l0.5-1.1l0.1-1.3l1-0.6h1.4h1.5l1.5-0.1l0.6-0.8l0.2-1.4l0.7-0.7l1.4-0.1h1.5l1.5-0.1l0.8-0.6l0.2-1.4l0.6-0.8l1.4-0.1l1.3-0.5l1.1-1l1.1-1l1.3-0.5l1.4-0.1h1.5h1.5l1.3-0.4l1.1-1l1.1-1l1.3-0.6l1.4-0.1h1.5l1.5-0.1l0.9-0.5l0.2-1.4l0.5-0.9l1.4-0.1h1.5h1.5l1-0.6l0.1-1.3l0.5-1.1l1.3-0.1h1.5h1.5l1.3-0.3l0.1-1.3l0.2-1.3l1.3-0.2h1.5h1.5h1.5h1.5l1.4-0.1l0.3-1.3l0.1-1.3l1.2-0.4h1.4h1.5h1.5h1.5l1.4-0.1l0.6-1l0.1-1.3l1-0.6h1.4h1.5l1.4-0.1l0.6-0.9l0.2-1.4l0.8-0.6l1.4-0.1h1.5l1.5-0.1l0.8-0.6l0.2-1.4l0.5-0.9l1.4-0.1h1.5h1.5h1.5h1.5l1.1-0.5l0.1-1.3l0.5-1.1l1.3-0.1h1.5h1.5l1.2-0.4l0.1-1.3l0.3-1.3l1.3-0.1h1.5h1.5l1.5-0.1l1.1-0.9l1.1-1.1l1.1-0.9l1.4-0.1l1.3-0.2l0.2-1.3l0.2-1.3l1.3-0.2h1.5h1.5l1.4-0.2l0.2-1.2l0.1-1.4l1.3-0.3l1.4-0.1l1.2-0.8l1-1l1.1-1l1.5-0.2l1.4-0.1l1.2-0.8l1-1.1l1.1-0.9l1.4-0.2h1.5h1.5l1.4-0.1l0.4-1.2l0.1-1.3l1.2-0.4h1.4h1.5l1.4-0.1l0.5-1.1l0.1-1.3l1-0.6h1.4h1.5l1.4-0.1l0.6-0.9l0.2-1.3l0.8-0.7l1.4-0.1h1.5l1.5-0.1l0.8-0.6l0.2-1.4l0.6-0.8l1.4-0.1l1.3-0.5l1.1-1l1.1-1l1.2-0.5l1.5-0.2l0.8-0.6l0.2-1.4l0.5-0.9l1.4-0.1h1.5h1.5l1-0.5l0.1-1.4l0.5-1l1.4-0.1l1.4-0.3l1.1-1l1.1-1l1.2-0.7l1.4-0.1l1-0.5l0.1-1.4l0.5-1.1l1.3-0.1l1.4-0.3l1.1-0.9l1.1-1l1.3-0.7l1.4-0.1l1.1-0.4l0.1-1.4l0.4-1.2l1.3-0.1h1.5h1.5l1.3-0.3l0.1-1.3l0.2-1.3l1.3-0.2h1.5h1.5l1.4-0.2l0.2-1.2l0.1-1.4l1.2-0.3h1.5h1.5l1.4-0.1l0.5-1.1l0.1-1.3l1.1-0.5h1.4h1.5l1.4-0.1l0.5-1l0.2-1.3l0.9-0.6l1.3-0.2l0.7-0.8l0.2-1.3l0.7-0.8l1.4-0.1h1.5l1.5-0.1l0.8-0.6l0.2-1.4l0.6-0.8l1.4-0.1l1.3-0.4l1.1-1l1.1-1l1.3-0.6l1.4-0.2l0.8-0.6l0.2-1.4l0.5-0.9l1.4-0.1l1-0.6l0.1-1.3l0.5-1.1l1.3-0.1h1.5h1.5l1.2-0.4l0.1-1.3l0.4-1.2l1.3-0.1l1.5-0.2l1.1-1l1-1l1.2-0.8l1.4-0.1l1.3-0.3l0.1-1.3l0.2-1.3l1.4-0.2h1.5h1.5l1.3-0.2l0.2-1.3l0.2-1.3l1.3-0.2l1.4-0.1l1.1-0.9l1.1-1l1.1-1l1.4-0.1l1.4-0.2l0.2-1.2l0.1-1.4l1.3-0.3l1.4-0.1l1.2-0.8l1-1l1.1-1l1.5-0.1l1.3-0.1l0.3-1.3l0.1-1.4l1.2-0.3h1.5h1.5l1.4-0.1l0.5-1l0.1-1.4l1-0.5l1.4-0.2l1.2-0.6l1.1-1.1l1.1-0.9l1.3-0.4l1.4-0.1l0.5-1l0.2-1.3l1-0.5l1.4-0.1h1.5l1.4-0.1l0.6-0.9l0.2-1.3l0.8-0.7l1.4-0.2l1.3-0.5l1-1l1.1-1l1.3-0.5l1.4-0.1l0.7-0.8l0.2-1.3l0.8-0.7l1.4-0.2l1.3-0.5l1.1-1l1-1l1.3-0.4l1.4-0.2l0.7-0.8l0.2-1.3l0.7-0.8l1.4-0.2l0.8-0.6l0.2-1.4l0.6-0.8l1.4-0.2l0.9-0.5l0.1-1.4l0.5-1l1.4-0.1l1-0.5l0.1-1.4l0.4-1.1l1.4-0.1l1.2-0.4l0.1-1.3l0.2-1.4l1-1.1l1-1l1.2-0.8l1.5-0.1l1.1-0.4l0.1-1.4l0.3-1.2l1.4-0.1l1.3-0.3l0.1-1.3l0.2-1.3l1.3-0.2l1.4-0.1l0.2-1.3l0.1-1.4l1.3-0.2l1.5-0.1l1.1-0.9l1-1l1.1-1.1l1.1-1.1l1-1l1.1-0.9l1.5-0.1l1.3-0.2l0.2-1.3l0.2-1.3l1.3-0.2l1.3-0.2l0.2-1.3l0.1-1.4l1.3-0.2l1.4-0.1l0.3-1.2l0.1-1.4l1.1-0.4l1.4-0.1l0.5-1l0.1-1.4l1-0.5l1.3-0.2l0.6-0.9l0.2-1.3l0.9-0.6l1.3-0.2l0.6-0.9l0.2-1.3l0.8-0.7l1.4-0.2l1.3-0.5l1.1-1l1-1l1.3-0.4l1.4-0.2l0.7-0.8l0.2-1.3l0.8-0.7l1.3-0.2l0.8-0.7l0.2-1.4l0.6-0.8l1.4-0.2l0.9-0.5l0.1-1.4l0.5-1l1.4-0.1l1-0.5l0.1-1.4l0.5-1l1.4-0.1l1.4-0.3l1.1-1l1-1l1.1-1.1l1.1-1.1l1-1l1.3-0.6l1.4-0.2l0.9-0.6l0.2-1.3l0.6-0.9l1.3-0.1l1-0.6l0.1-1.3l0.5-1.1l1.3-0.1l1.2-0.4l0.1-1.3l0.3-1.3l1.3-0.1l1.3-0.3l0.1-1.3l0.2-1.3l1.4-0.2l1.3-0.2l0.2-1.3l0.2-1.3l1.3-0.2l1.3-0.1l0.3-1.3l0.1-1.3l1.2-0.4l1.3-0.1l0.4-1.2l0.1-1.3l1.1-0.5l1.3-0.1l0.6-1l0.1-1.3l1-0.6l1.4-0.1l0.5-0.9l0.2-1.4l0.8-0.6l1.4-0.2l0.6-0.8l0.2-1.4l0.7-0.7l1.4-0.2l0.8-0.6l0.2-1.4l0.6-0.8l1.4-0.2l0.9-0.6l0.1-1.3l0.6-1l1.3-0.1l1.1-0.5l0.1-1.3l0.4-1.2l1.3-0.1l1.2-0.4l0.1-1.3l0.3-1.3l1.3-0.1l1.3-0.2l0.2-1.3l0.1-1.5l1-1.1l1-1.1l0.9-1.1l0.1-1.5l0.2-1.2l1.4-0.2l1.2-0.2l0.2-1.4l0.2-1.2l1.4-0.2l1.4-0.1l1.1-0.9l1.1-1.1l1.1-0.9l1.5-0.1l1.4-0.2l1.1-0.9l1.1-1.1l1.1-0.8l1.5-0.1l1.4-0.2l1.1-0.9l1.1-1.1l1.2-0.8l1.4-0.1l1.4-0.2l1.1-1l1.1-1l1.2-0.7l1.5-0.1l1.4-0.3l1.1-1l1-1l1.2-0.7l1.4-0.1l1.1-0.5l0.1-1.4v-1.5v-1.5l0.4-1.1l1.4-0.1l1.2-0.3l0.1-1.4l0.2-1.4l0.9-1.1l1-1.1l0.8-1.2l0.1-1.4l0.4-1.2l1.4-0.1l1.4-0.2l1.1-1l1-1l1.1-1.1l1.1-1.1l1-1l1.2-0.7l1.5-0.1l1-0.5l0.1-1.4l0.3-1.4l1-1.1l1-1l0.7-1.2l0.1-1.4l0.5-1.1l1.4-0.1l1.1-0.4l0.1-1.4l0.3-1.2l1.4-0.1l1.2-0.3l0.1-1.4l0.3-1.2l1.4-0.1l1.2-0.2l0.2-1.4l0.2-1.3l1.3-0.2l1.3-0.1l0.3-1.3l0.1-1.5l0.8-1.1l1.1-1.1l0.9-1.1l0.1-1.4l0.2-1.4l1.3-0.2l1.3-0.1l0.3-1.3l0.1-1.3l1.2-0.4l1.3-0.1l0.5-1.1l0.1-1.3l1-0.6l1.3-0.1l0.6-0.9l0.2-1.3l0.9-0.6l1.4-0.2l1.3-0.6l1-1l1.1-1l1.4-0.4l1.4-0.1l0.5-0.9l0.2-1.4l0.8-0.6l1.4-0.2l1.3-0.5l1.1-1l1.1-1l1.4-0.4l1.3-0.1l0.6-0.9l0.2-1.4l0.8-0.6l1.4-0.2l0.7-0.7l0.2-1.4l0.6-0.8l1.4-0.1l1.3-0.5l1.1-1l1.1-1l1.1-1.1l1.1-1.1l0.9-1l0.5-1.4l0.1-1.4l0.8-0.6l1.4-0.2l0.6-0.8l0.2-1.4l0.7-0.7l1.4-0.2l0.8-0.6l0.2-1.4l0.6-0.8l1.4-0.2l0.9-0.6l0.1-1.3l0.6-1l1.3-0.1l1.4-0.4l1.1-1l1.1-1l1.2-0.6l1.4-0.1l1-0.6l0.1-1.3l0.6-1l1.3-0.1l1-0.6l0.1-1.3l0.5-1.1l1.3-0.1l1.2-0.4l0.1-1.4v-1.5v-1.5v-1.5v-1.5v-1.5v-1.5l0.2-1.3l1.3-0.2l1.3-0.1l0.3-1.3l0.1-1.3l1.2-0.4h1.5h1.5h1.5h1.5l1.4-0.1l0.5-1l0.1-1.4l1-0.5h1.5h1.5l1.4-0.1l0.5-0.9l0.2-1.4l0.8-0.6l1.4-0.2l0.7-0.7M1259.4,837l-0.9,1l-1.4,0.1l-1.3,0.2l-0.2,1.4l-0.2,1.3l-1.3,0.2l-1.3,0.2l-0.2,1.3v1.5v1.5v1.5v1.5l-0.1,1.3l-1.2,0.4l-1.3,0.1l-0.5,1.1v1.5v1.5l-0.1,1.3l-1,0.6l-1.4,0.1l-0.5,0.9l-0.2,1.4l-0.8,0.6l-1.4,0.2l-0.7,0.7l-0.2,1.4l-0.6,0.8l-1.4,0.2l-0.8,0.6l-0.2,1.4l-0.6,0.8l-1.5,0.1h-1.5h-1.4l-1,0.6l-0.1,1.3l-0.5,1.1l-1.4,0.1h-1.5h-1.4l-1.2,0.4l-0.1,1.4v1.5v1.5v1.5v1.4l0.2,1.3l1.4,0.2l1.3,0.2l0.2,1.3v1.5v1.5l-0.1,1.3l-1.2,0.4l-1.3,0.1l-0.5,1.1l-0.1,1.3l-1.1,0.5l-1.3,0.1l-0.6,1l-0.1,1.4l-0.9,0.5l-1.4,0.2l-0.5,0.9l-0.1,1.5v1.5v1.5v1.5v1.5v1.5v1.5v1.5l-0.1,1.4l-0.6,0.8l-1.4,0.2l-0.9,0.6l-0.1,1.3l-0.4,1.4l-1,1.1l-1,1l-1.1,1.1l-1.1,1.1l-1,1l-0.5,1.3l-0.2,1.4l-0.7,0.8l-1.3,0.2l-0.8,0.7l-0.1,1.4v1.5v1.5l-0.4,1.3l-1,1.1l-1.1,1l-1.1,1.1l-1,1l-1.1,1l-1.3,0.5l-1.4,0.2l-0.7,0.8l-0.2,1.3l-0.7,0.8l-1.3,0.2l-0.9,0.6l-0.2,1.3l-0.6,0.9l-1.3,0.2l-1,0.5l-0.1,1.4v1.5v1.5v1.5v1.5v1.5v1.5v1.5v1.5l-0.2,1.4l-0.9,1.1l-1,1.1l-0.8,1.2l-0.1,1.5v1.5v1.5l-0.3,1.2l-1.4,0.1l-1.2,0.2l-0.2,1.4l-0.2,1.3l-1.3,0.2h-1.5h-1.5l-1.3,0.1l-0.3,1.3l-0.1,1.3l-1.3,0.3l-1.3,0.1l-0.4,1.2l-0.1,1.4l-0.8,1.2l-1,1.1l-1,1.1l-0.2,1.4v1.5v1.5l-0.1,1.4l-1.1,0.4l-1.4,0.1l-0.5,1v1.5v1.5l-0.1,1.5l-0.6,1.2l-1,1.1l-1,1.1l-0.3,1.4v1.4v1.5l-0.1,1.4l-0.9,0.6l-1.4,0.2l-0.6,0.8l-0.2,1.4l-0.7,0.7l-1.4,0.2l-0.8,0.6l-0.1,1.4v1.5l-0.1,1.5l-0.5,0.9l-1.4,0.2l-0.9,0.5l-0.1,1.4v1.5v1.5l-0.6,1l-1.3,0.1l-1.1,0.5l-0.1,1.3v1.5v1.5v1.5v1.5l-0.3,1.3l-1.3,0.1l-1.3,0.2l-0.2,1.3l-0.1,1.5l-0.9,1.1l-1.1,1.1l-0.9,1.1l-0.1,1.5l-0.2,1.3l-1.3,0.2l-1.3,0.2l-0.2,1.3l-0.2,1.3l-1.3,0.2l-1.3,0.1l-0.3,1.3l-0.1,1.3l-1.2,0.4l-1.3,0.1l-0.5,1.1l-0.1,1.3l-1,0.6l-1.3,0.1l-0.6,1l-0.1,1.4l-0.7,1.2l-1,1.1l-1.1,1.1l-1,1l-1.1,1.1l-1,1.1l-0.2,1.4l-0.1,1.4l-1.2,0.3l-1.4,0.1l-0.3,1.2v1.5v1.5v1.5v1.5l-0.1,1.4l-1,0.5l-1.4,0.1l-0.5,0.9l-0.1,1.5v1.5l-0.1,1.4l-0.8,0.7l-1.3,0.2l-0.8,0.7l-0.2,1.3l-0.6,0.9l-1.3,0.2l-1,0.5l-0.2,1.3l-0.5,1l-1.3,0.2l-1,0.5l-0.1,1.4v1.5v1.5l-0.4,1.1l-1.4,0.1l-1.2,0.3l-0.1,1.4l-0.3,1.2l-1.4,0.1l-1.3,0.2l-0.1,1.4l-0.2,1.3l-1.3,0.2l-1.3,0.2l-0.2,1.3l-0.1,1.4l-0.9,1.2l-1.1,1l-0.9,1.1l-0.1,1.5l-0.2,1.3l-1.3,0.2l-1.3,0.1l-0.3,1.3l-0.1,1.3l-1.2,0.4l-1.3,0.1l-0.4,1.2l-0.1,1.4l-0.8,1.2l-1,1.1l-1,1.1l-0.2,1.4l-0.1,1.3l-1.2,0.4l-1.3,0.1l-0.5,1.1l-0.1,1.4l-1,0.5l-1.4,0.1l-0.5,0.9l-0.1,1.5v1.5l-0.1,1.4l-0.8,0.6l-1.4,0.2l-0.6,0.8l-0.2,1.4l-0.7,0.7l-1.4,0.2l-0.8,0.7l-0.2,1.3l-0.4,1.3l-1,1.1l-1,1.1l-0.5,1.3l-0.2,1.4l-0.7,0.8l-1.3,0.2l-0.8,0.7l-0.1,1.4l-0.5,1.3l-1,1l-1,1.1l-0.5,1.3l-0.2,1.4l-0.7,0.8l-1.3,0.2l-0.9,0.6l-0.1,1.4l-0.4,1.3l-1,1.1l-1,1.1l-0.5,1.2l-0.2,1.5l-0.6,0.8l-1.4,0.2l-0.9,0.5l-0.1,1.4l-0.4,1.4l-1,1l-1,1.1l-0.6,1.2l-0.2,1.5l-0.5,0.9l-1.4,0.1l-1,0.5l-0.1,1.4l-0.3,1.4l-1,1.1l-1,1.1l-0.6,1.2l-0.2,1.4l-0.5,1l-1.4,0.1l-1,0.5l-0.1,1.4l-0.3,1.4l-1,1.1l-1,1l-0.7,1.2l-0.1,1.5l-0.5,1l-1.4,0.1l-1,0.5l-0.1,1.4l-0.4,1.1l-1.4,0.1l-1.2,0.4l-0.1,1.3l-0.3,1.3l-1.3,0.1l-1.3,0.2l-0.2,1.3l-0.2,1.4l-1.2,0.2l-1.4,0.2l-0.2,1.2l-0.2,1.4l-1.2,0.2l-1.4,0.1l-0.3,1.2l-0.1,1.4l-1.1,0.4l-1.4,0.1l-0.5,1.1l-0.1,1.3l-1,0.5l-1.3,0.2l-0.5,1l-0.2,1.4l-0.7,1.2l-1,1.1l-1,1.1l-0.3,1.3l-0.1,1.4l-1,0.5l-1.3,0.2l-0.6,0.9l-0.2,1.3l-0.9,0.6l-1.3,0.2l-0.7,0.8l-0.2,1.4l-0.7,0.7l-1.4,0.2l-0.7,0.7l-0.1,1.4l-0.5,1.3l-1,1.1l-1,1.1l-0.5,1.2l-0.2,1.4l-0.7,0.8l-1.3,0.2l-0.9,0.6l-0.2,1.4l-0.5,0.9l-1.4,0.2l-0.9,0.5l-0.1,1.4l-0.4,1.4l-1,1l-1,1.1l-0.6,1.2l-0.2,1.4l-0.5,1l-1.4,0.1l-1,0.5l-0.1,1.4l-0.4,1.1l-1.4,0.1l-1.1,0.4l-0.1,1.4v1.5v1.5l-0.3,1.2l-1.4,0.1l-1.3,0.3l-0.1,1.3l-0.1,1.5l-1,1l-1,1.1l-0.9,1.1l-0.1,1.5l-0.2,1.2l-1.4,0.2l-1.3,0.2l-0.2,1.3l-0.1,1.3l-1.3,0.3l-1.3,0.1l-0.3,1.3l-0.1,1.4l-1.2,0.3l-1.4,0.1l-0.4,1.1l-0.1,1.5l-0.8,1.1l-1,1.1l-1.1,1.1l-1,1l-1,1.1l-1.1,1.1l-1.1,1l-1,1.1l-1.1,1l-1.1,1.1l-1,1.1l-0.8,1.1l-0.1,1.5l-0.3,1.2l-1.4,0.1l-1.4,0.2l-1.1,0.9l-1.1,1.1l-1.2,0.7l-1.4,0.1l-1.2,0.4l-0.1,1.3l-0.3,1.3l-1.3,0.1h-1.5h-1.5l-1.3,0.2l-0.2,1.3l-0.2,1.4l-1.3,0.2l-1.3,0.1l-0.3,1.3l-0.1,1.3l-1.2,0.4l-1.4,0.1l-1.2,0.7l-1.1,1.1l-0.9,1.1l-0.2,1.4l-0.1,1.4l-1.2,0.3l-1.4,0.1l-0.4,1.1l-0.1,1.4l-1,0.5h-1.5h-1.5l-1.4,0.1l-0.6,0.9l-0.2,1.3l-0.9,0.6l-1.4,0.2l-1.2,0.6l-1.1,1l-1.1,1l-1.3,0.4l-1.5,0.1l-1.2,0.6l-1.1,1l-1.1,1l-1.3,0.4l-1.4,0.1l-0.5,1l-0.2,1.3l-0.9,0.6l-1.3,0.2l-0.7,0.8l-0.2,1.3l-0.8,0.7l-1.3,0.2l-0.7,0.8l-0.2,1.3l-0.7,0.8l-1.3,0.2l-0.9,0.6l-0.2,1.4l-0.5,0.9l-1.4,0.1l-1,0.5l-0.1,1.4l-0.5,1l-1.4,0.1l-1.1,0.4l-0.1,1.4l-0.3,1.2l-1.4,0.1l-1.2,0.3l-0.1,1.4l-0.3,1.3l-1.3,0.1h-1.5h-1.5l-1.4,0.1l-0.2,1.3l-0.1,1.4l-1.3,0.2h-1.5h-1.5l-1.4,0.1l-0.3,1.2l-0.1,1.4l-1.1,0.4h-1.5h-1.5l-1.4,0.1l-0.5,1l-0.1,1.4l-1,0.5l-1.4,0.1h-1.5h-1.5h-1.5l-1.4,0.1l-0.8,0.7l-0.2,1.3l-0.7,0.8l-1.4,0.1h-1.5h-1.5h-1.5h-1.5l-1.3,0.4l-1.1,1l-1.1,1.1l-1.2,0.5l-1.5,0.1l-1.3,0.5l-1.1,1l-1.1,1l-1.2,0.5l-1.4,0.2l-0.8,0.7l-0.2,1.3l-0.6,0.9l-1.4,0.1h-1.5h-1.5h-1.5h-1.5h-1.5h-1.5h-1.5h-1.5l-1.2,0.3l-0.1,1.4l-0.3,1.2l-1.4,0.1h-1.5h-1.5l-1.3-0.1"/>
<path stroke="#ff00ff" stroke-width="9.2" d="M1237.1,837h22.3"/>
</g></g>
<g id="ticklabels" font-size="73.8">
<text transform="translate(273.4,1350.80) scale(0.955,1)" text-anchor="end">0</text>
<text transform="translate(273.4,1096.40) scale(0.955,1)" text-anchor="end">5</text>
<text transform="translate(273.4,842.00) scale(0.955,1)" text-anchor="end">10</text>
<text transform="translate(273.4,587.60) scale(0.955,1)" text-anchor="end">15</text>
<text transform="translate(273.4,333.20) scale(0.955,1)" text-anchor="end">20</text>
<text transform="translate(273.4,78.80) scale(0.955,1)" text-anchor="end">25</text>
<text transform="translate(339.55,1475.0) scale(0.955,1)" text-anchor="middle">0</text>
<text transform="translate(627.86,1475.0) scale(0.955,1)" text-anchor="middle">50</text>
<text transform="translate(916.17,1475.0) scale(0.955,1)" text-anchor="middle">100</text>
<text transform="translate(1204.47,1475.0) scale(0.955,1)" text-anchor="middle">150</text>
<text transform="translate(1492.78,1475.0) scale(0.955,1)" text-anchor="middle">200</text>
<text transform="translate(1781.09,1475.0) scale(0.955,1)" text-anchor="middle">250</text>
<text transform="translate(2069.40,1475.0) scale(0.955,1)" text-anchor="middle">300</text>
</g>
<g id="legend">
<rect x="463.2" y="168.6" width="222.8" height="448.6" fill="#fff" stroke="#000" stroke-width="1.8"/>
<line x1="468.7" y1="217.4" x2="610.2" y2="217.4" stroke="#000000" stroke-width="9.2" stroke-linecap="round"/>
<text transform="translate(625.0,238.7) scale(1.0,1)" font-size="73.7">A</text>
<line x1="468.7" y1="308.1" x2="610.2" y2="308.1" stroke="#ff0000" stroke-width="9.2" stroke-linecap="round"/>
<text transform="translate(630.3,329.4) scale(0.94,1)" font-size="73.7">B</text>
<line x1="468.7" y1="399.0" x2="610.2" y2="399.0" stroke="#0000ff" stroke-width="9.2" stroke-linecap="round"/>
<text transform="translate(628.8,420.3) scale(0.91,1)" font-size="73.7">C</text>
<line x1="468.7" y1="490.0" x2="610.2" y2="490.0" stroke="#008080" stroke-width="9.2" stroke-linecap="round"/>
<text transform="translate(630.5,511.3) scale(0.93,1)" font-size="73.7">D</text>
<line x1="468.7" y1="581.0" x2="610.2" y2="581.0" stroke="#ff00ff" stroke-width="9.2" stroke-linecap="round"/>
<text transform="translate(631.0,602.3) scale(0.92,1)" font-size="73.7">E</text>
</g>
<g id="xtitle" font-size="102.9">
<text transform="translate(539.8,1636.7) scale(1.0,1)" letter-spacing="0.2" xml:space="preserve">Penetration Depth, Pd [</text>
<text class="mu" transform="translate(1676.5,1636.7) scale(1.2,1)" font-size="96.0">μ</text>
<text transform="translate(1731.0,1636.7) scale(1.0,1)">m]</text>
</g>
<text id="ytitle" transform="translate(102.6,986.5) rotate(-90) scale(1.0,1)" font-size="102.5" xml:space="preserve">Load, Fn [mN]</text>
</svg></body></html>
